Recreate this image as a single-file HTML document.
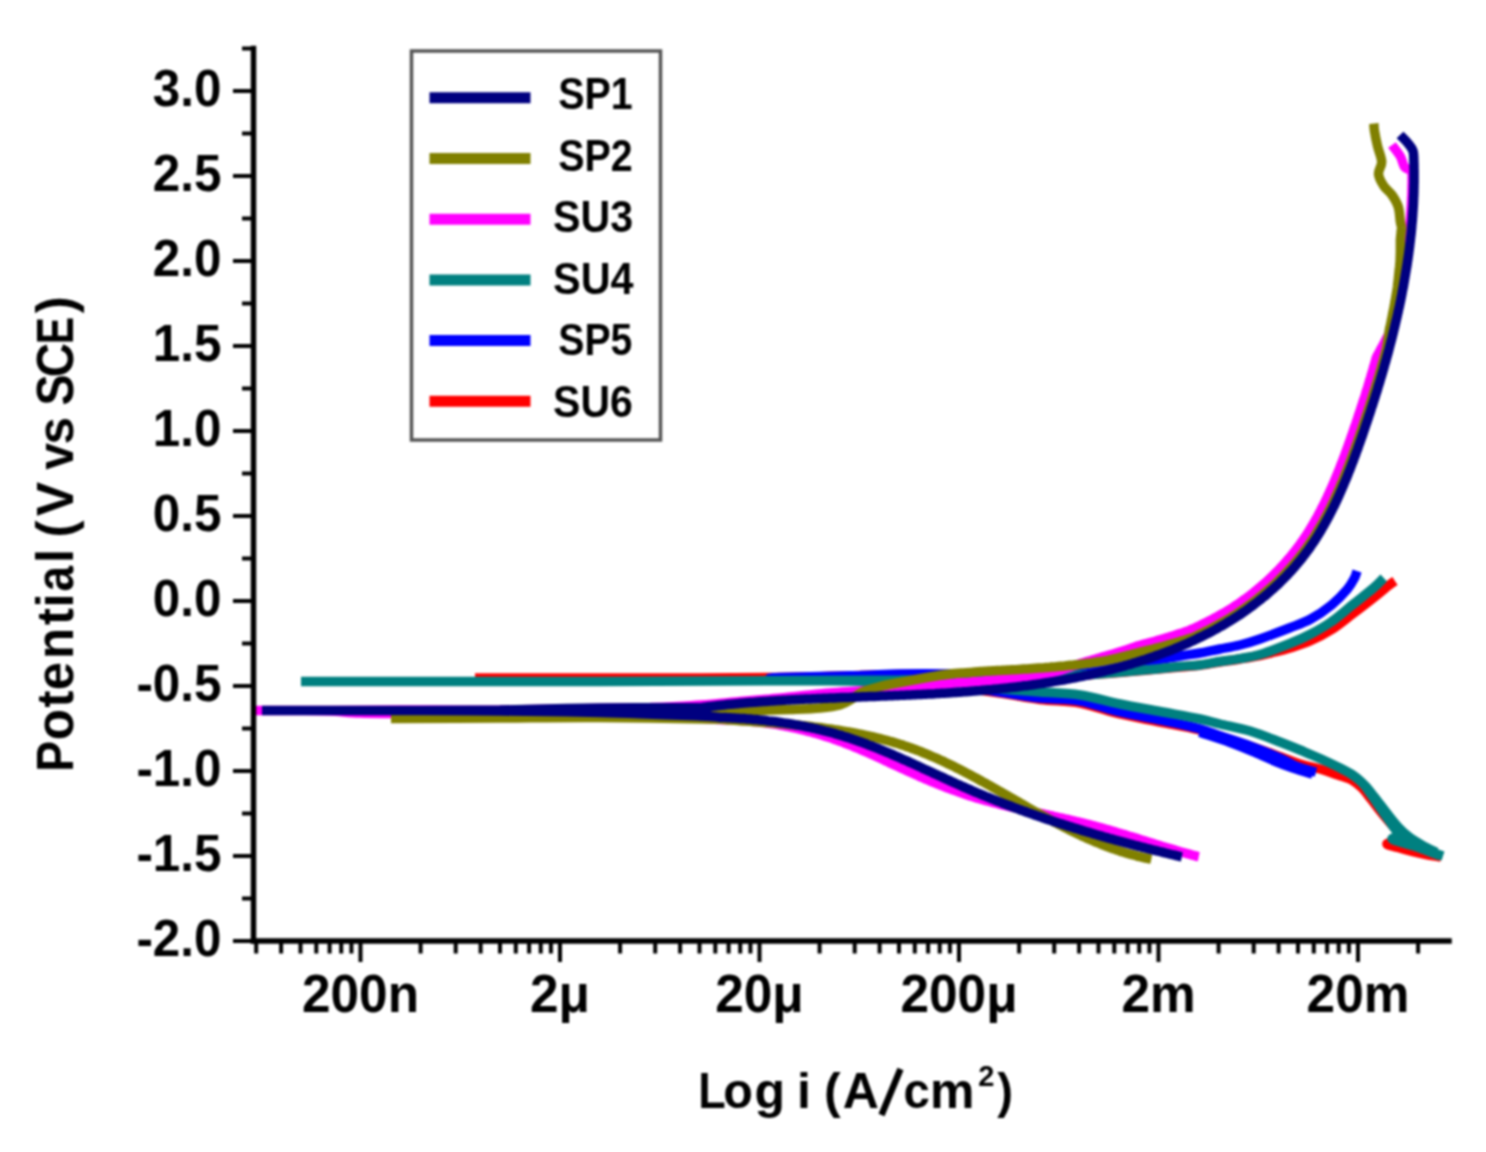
<!DOCTYPE html>
<html><head><meta charset="utf-8"><style>
html,body{margin:0;padding:0;background:#fff;}
body{width:1486px;height:1152px;overflow:hidden;}
svg{display:block;filter:blur(0.9px);font-family:"Liberation Sans",sans-serif;}
</style></head><body>
<svg width="1486" height="1152" viewBox="0 0 1486 1152">
<rect width="1486" height="1152" fill="#fff"/>
<g fill="none" stroke-width="9.5" stroke-linejoin="bevel" stroke-linecap="butt">
<path d="M1441.0 857.0 C1438.5 856.6 1430.8 855.4 1426.0 854.5 C1421.2 853.6 1416.7 852.7 1412.0 851.5 C1407.3 850.3 1402.2 848.8 1398.0 847.5 C1393.8 846.2 1387.3 845.2 1387.0 844.0 C1386.7 842.8 1393.2 841.7 1396.0 840.5 C1398.8 839.3 1404.7 839.6 1404.0 837.0 C1403.3 834.4 1395.8 829.2 1392.0 825.0 C1388.2 820.8 1384.5 816.3 1381.0 812.0 C1377.5 807.7 1374.2 803.0 1371.0 799.0 C1367.8 795.0 1365.2 791.2 1362.0 788.0 C1358.8 784.8 1356.0 782.2 1352.0 780.0 C1348.0 777.8 1343.3 776.8 1338.0 775.0 C1332.7 773.2 1326.3 770.8 1320.0 769.0 C1313.7 767.2 1306.5 766.0 1300.0 764.0 C1293.5 762.0 1289.3 760.0 1281.0 757.0 C1272.7 754.0 1263.5 750.5 1250.0 746.0 C1236.5 741.5 1215.0 734.0 1200.0 730.0 C1185.0 726.0 1173.3 724.7 1160.0 722.0 C1146.7 719.3 1133.3 717.2 1120.0 714.0 C1106.7 710.8 1093.3 705.4 1080.0 703.0 C1066.7 700.6 1053.3 701.2 1040.0 699.5 C1026.7 697.8 1015.0 695.2 1000.0 693.0 C985.0 690.8 966.7 688.2 950.0 686.0 C933.3 683.8 925.0 681.4 900.0 680.0 C875.0 678.6 833.3 677.8 800.0 677.5 C766.7 677.2 754.2 677.9 700.0 678.0 C645.8 678.1 475.0 678.0 475.0 678.0 C475.0 678.0 645.8 678.2 700.0 678.0 C754.2 677.8 773.3 677.4 800.0 677.0 C826.7 676.6 843.3 675.9 860.0 675.5 C876.7 675.1 885.0 674.7 900.0 674.5 C915.0 674.3 933.3 673.9 950.0 674.5 C966.7 675.1 981.7 677.7 1000.0 678.0 C1018.3 678.3 1041.7 677.3 1060.0 676.5 C1078.3 675.7 1095.0 674.3 1110.0 673.2 C1125.0 672.1 1138.3 670.8 1150.0 669.8 C1161.7 668.8 1171.7 667.8 1180.0 667.0 C1188.3 666.2 1193.3 666.1 1200.0 665.3 C1206.7 664.5 1213.3 663.0 1220.0 662.0 C1226.7 661.0 1233.3 660.1 1240.0 659.0 C1246.7 657.9 1254.2 656.7 1260.0 655.5 C1265.8 654.3 1270.0 653.2 1275.0 652.0 C1280.0 650.8 1284.2 649.8 1290.0 648.0 C1295.8 646.2 1303.0 644.1 1310.0 641.0 C1317.0 637.9 1324.6 634.0 1331.7 629.5 C1338.8 625.0 1345.6 619.2 1352.5 614.0 C1359.4 608.8 1367.4 602.7 1373.3 598.0 C1379.2 593.3 1384.4 588.8 1388.0 586.0 C1391.6 583.2 1393.8 581.8 1395.0 581.0" stroke="#ff0000"/>
<path d="M1316.0 772.0 C1313.3 771.3 1306.0 770.3 1300.0 768.0 C1294.0 765.7 1288.3 761.7 1280.0 758.0 C1271.7 754.3 1260.0 749.7 1250.0 746.0 C1240.0 742.3 1228.3 738.8 1220.0 736.0 C1211.7 733.2 1210.0 731.7 1200.0 729.0 C1190.0 726.3 1173.3 722.8 1160.0 720.0 C1146.7 717.2 1133.3 715.2 1120.0 712.0 C1106.7 708.8 1093.3 703.3 1080.0 701.0 C1066.7 698.7 1053.3 699.5 1040.0 698.0 C1026.7 696.5 1015.0 694.2 1000.0 692.0 C985.0 689.8 966.7 687.1 950.0 685.0 C933.3 682.9 925.0 680.8 900.0 679.5 C875.0 678.2 821.7 677.8 800.0 677.5 C778.3 677.2 770.0 678.1 770.0 678.0 C770.0 677.9 785.0 677.4 800.0 677.0 C815.0 676.6 843.3 676.0 860.0 675.5 C876.7 675.0 885.0 674.2 900.0 674.0 C915.0 673.8 933.3 673.8 950.0 674.0 C966.7 674.2 975.0 675.8 1000.0 675.0 C1025.0 674.2 1075.0 671.3 1100.0 669.0 C1125.0 666.7 1136.7 663.2 1150.0 661.0 C1163.3 658.8 1171.7 657.3 1180.0 656.0 C1188.3 654.7 1193.3 654.2 1200.0 653.0 C1206.7 651.8 1213.3 650.3 1220.0 649.0 C1226.7 647.7 1233.3 646.7 1240.0 645.0 C1246.7 643.3 1251.7 641.9 1260.0 639.0 C1268.3 636.1 1281.5 631.1 1290.0 627.8 C1298.5 624.5 1303.8 622.8 1310.8 619.0 C1317.8 615.2 1325.6 609.8 1331.7 604.8 C1337.8 599.8 1343.5 593.7 1347.3 589.2 C1351.1 584.7 1352.9 581.0 1354.5 578.0 C1356.1 575.0 1356.6 572.2 1357.0 571.0" stroke="#0000ff"/>
<path d="M1200.0 731.0 C1205.0 732.7 1220.8 737.7 1230.0 741.0 C1239.2 744.3 1246.7 747.5 1255.0 751.0 C1263.3 754.5 1272.5 759.0 1280.0 762.0 C1287.5 765.0 1294.5 767.2 1300.0 769.0 C1305.5 770.8 1310.8 772.3 1313.0 773.0" stroke="#0000ff" stroke-width="12"/>
<path d="M1443.0 856.0 C1440.5 855.2 1432.8 852.7 1428.0 851.0 C1423.2 849.3 1418.7 847.5 1414.0 846.0 C1409.3 844.5 1403.7 843.2 1400.0 842.0 C1396.3 840.8 1391.7 839.8 1392.0 838.5 C1392.3 837.2 1401.7 836.6 1402.0 834.0 C1402.3 831.4 1397.0 827.0 1394.0 823.0 C1391.0 819.0 1387.3 814.4 1384.0 810.0 C1380.7 805.6 1377.2 800.6 1374.0 796.5 C1370.8 792.4 1368.2 788.8 1365.0 785.5 C1361.8 782.2 1358.8 779.2 1355.0 776.5 C1351.2 773.8 1347.8 772.0 1342.0 769.0 C1336.2 766.0 1327.0 761.7 1320.0 758.5 C1313.0 755.3 1306.7 752.8 1300.0 750.0 C1293.3 747.2 1288.3 745.2 1280.0 742.0 C1271.7 738.8 1260.0 734.0 1250.0 731.0 C1240.0 728.0 1228.3 726.0 1220.0 724.0 C1211.7 722.0 1210.0 721.1 1200.0 719.0 C1190.0 716.9 1173.3 714.0 1160.0 711.5 C1146.7 709.0 1133.3 706.8 1120.0 704.0 C1106.7 701.2 1093.3 697.0 1080.0 695.0 C1066.7 693.0 1053.3 693.0 1040.0 692.0 C1026.7 691.0 1015.0 690.1 1000.0 689.0 C985.0 687.9 966.7 686.7 950.0 685.5 C933.3 684.3 925.0 682.8 900.0 682.0 C875.0 681.2 850.0 680.6 800.0 680.5 C750.0 680.4 683.2 681.3 600.0 681.5 C516.8 681.7 301.0 681.5 301.0 681.5 C301.0 681.5 516.8 681.7 600.0 681.5 C683.2 681.3 750.0 680.8 800.0 680.5 C850.0 680.2 866.7 680.2 900.0 680.0 C933.3 679.8 973.3 679.6 1000.0 679.0 C1026.7 678.4 1041.7 677.5 1060.0 676.5 C1078.3 675.5 1095.0 674.2 1110.0 673.0 C1125.0 671.8 1138.3 670.6 1150.0 669.5 C1161.7 668.4 1171.7 667.2 1180.0 666.5 C1188.3 665.8 1193.3 665.8 1200.0 665.0 C1206.7 664.2 1213.3 662.6 1220.0 661.5 C1226.7 660.4 1233.3 659.8 1240.0 658.6 C1246.7 657.4 1251.7 657.0 1260.0 654.5 C1268.3 652.0 1281.5 646.9 1290.0 643.5 C1298.5 640.1 1303.8 637.7 1310.8 634.0 C1317.8 630.3 1324.8 626.4 1331.7 621.5 C1338.7 616.6 1345.6 610.3 1352.5 604.8 C1359.4 599.2 1368.1 592.7 1373.3 588.2 C1378.5 583.7 1382.0 579.7 1383.8 578.0" stroke="#008080"/>
<path d="M1350.0 773.0 C1352.0 774.7 1358.5 779.3 1362.0 783.0 C1365.5 786.7 1368.0 790.8 1371.0 795.0 C1374.0 799.2 1377.0 803.7 1380.0 808.0 C1383.0 812.3 1386.0 816.8 1389.0 821.0 C1392.0 825.2 1394.5 829.3 1398.0 833.0 C1401.5 836.7 1405.5 840.2 1410.0 843.0 C1414.5 845.8 1420.0 847.8 1425.0 850.0 C1430.0 852.2 1437.5 855.0 1440.0 856.0" stroke="#008080" stroke-width="9"/>
<path d="M1378.0 803.0 C1379.7 805.2 1384.7 811.8 1388.0 816.0 C1391.3 820.2 1394.5 824.3 1398.0 828.0 C1401.5 831.7 1405.0 835.0 1409.0 838.0 C1413.0 841.0 1417.5 843.5 1422.0 846.0 C1426.5 848.5 1433.7 851.8 1436.0 853.0" stroke="#008080" stroke-width="11"/>
<path d="M1198.8 856.7 C1198.3 856.6 1196.8 856.2 1195.9 856.0 C1194.9 855.7 1193.9 855.5 1193.0 855.2 C1192.0 854.9 1191.0 854.7 1190.0 854.4 C1189.1 854.1 1188.1 853.9 1187.1 853.6 C1186.2 853.3 1185.2 853.1 1184.2 852.8 C1183.3 852.5 1182.3 852.3 1181.3 852.0 C1180.4 851.7 1179.4 851.4 1178.4 851.2 C1177.5 850.9 1176.5 850.6 1175.6 850.3 C1174.6 850.0 1173.6 849.7 1172.7 849.5 C1171.7 849.2 1170.7 848.9 1169.8 848.6 C1168.8 848.3 1167.8 848.0 1166.9 847.7 C1165.9 847.4 1165.0 847.2 1164.0 846.9 C1163.0 846.6 1162.1 846.3 1161.1 846.0 C1160.1 845.7 1159.2 845.4 1158.2 845.1 C1157.3 844.8 1156.3 844.5 1155.3 844.2 C1154.4 843.9 1153.4 843.6 1152.5 843.3 C1151.5 843.0 1150.5 842.7 1149.6 842.4 C1148.6 842.1 1147.7 841.8 1146.7 841.5 C1145.7 841.2 1144.8 840.9 1143.8 840.6 C1142.9 840.3 1141.9 840.0 1140.9 839.7 C1140.0 839.4 1139.0 839.1 1138.1 838.8 C1137.1 838.5 1136.1 838.2 1135.2 838.0 C1134.2 837.7 1133.2 837.4 1132.3 837.1 C1131.3 836.8 1130.4 836.5 1129.4 836.2 C1128.4 835.9 1127.5 835.6 1126.5 835.3 C1125.6 835.0 1124.6 834.7 1123.6 834.4 C1122.7 834.1 1121.7 833.8 1120.7 833.5 C1119.8 833.2 1118.8 833.0 1117.8 832.7 C1116.9 832.4 1115.9 832.1 1115.0 831.8 C1114.0 831.5 1113.0 831.2 1112.1 830.9 C1111.1 830.7 1110.1 830.4 1109.2 830.1 C1108.2 829.8 1107.2 829.5 1106.3 829.3 C1105.3 829.0 1104.3 828.7 1103.4 828.4 C1102.4 828.2 1101.4 827.9 1100.4 827.6 C1099.5 827.4 1098.5 827.1 1097.5 826.8 C1096.6 826.6 1095.6 826.3 1094.6 826.0 C1093.6 825.8 1092.7 825.5 1091.7 825.3 C1090.7 825.0 1089.7 824.8 1088.8 824.5 C1087.8 824.3 1086.8 824.0 1085.8 823.8 C1084.9 823.5 1083.9 823.3 1082.9 823.0 C1081.9 822.8 1080.9 822.5 1080.0 822.3 C1079.0 822.1 1078.0 821.8 1077.0 821.6 C1076.0 821.4 1075.1 821.1 1074.1 820.9 C1073.1 820.7 1072.1 820.4 1071.1 820.2 C1070.2 820.0 1069.2 819.8 1068.2 819.5 C1067.2 819.3 1066.2 819.1 1065.2 818.9 C1064.3 818.7 1063.3 818.4 1062.3 818.2 C1061.3 818.0 1060.3 817.8 1059.3 817.6 C1058.3 817.3 1057.4 817.1 1056.4 816.9 C1055.4 816.7 1054.4 816.5 1053.4 816.3 C1052.4 816.0 1051.4 815.8 1050.5 815.6 C1049.5 815.4 1048.5 815.2 1047.5 815.0 C1046.5 814.8 1045.5 814.6 1044.5 814.3 C1043.6 814.1 1042.6 813.9 1041.6 813.7 C1040.6 813.5 1039.6 813.3 1038.6 813.1 C1037.6 812.9 1036.7 812.6 1035.7 812.4 C1034.7 812.2 1033.7 812.0 1032.7 811.8 C1031.7 811.6 1030.7 811.4 1029.8 811.1 C1028.8 810.9 1027.8 810.7 1026.8 810.5 C1025.8 810.3 1024.8 810.1 1023.9 809.8 C1022.9 809.6 1021.9 809.4 1020.9 809.2 C1019.9 809.0 1018.9 808.8 1018.0 808.5 C1017.0 808.3 1016.0 808.1 1015.0 807.9 C1014.0 807.6 1013.1 807.4 1012.1 807.2 C1011.1 807.0 1010.1 806.7 1009.2 806.5 C1008.2 806.3 1007.2 806.0 1006.2 805.8 C1005.2 805.6 1004.3 805.3 1003.3 805.1 C1002.3 804.8 1001.3 804.6 1000.4 804.4 C999.4 804.1 998.4 803.9 997.5 803.6 C996.5 803.4 995.5 803.1 994.5 802.9 C993.6 802.6 992.6 802.4 991.6 802.1 C990.7 801.9 989.7 801.6 988.7 801.3 C987.8 801.1 986.8 800.8 985.8 800.6 C984.9 800.3 983.9 800.0 983.0 799.7 C982.0 799.5 981.0 799.2 980.1 798.9 C979.1 798.6 978.2 798.4 977.2 798.1 C976.2 797.8 975.3 797.5 974.3 797.2 C973.4 796.9 972.4 796.6 971.5 796.3 C970.5 796.0 969.6 795.7 968.6 795.4 C967.7 795.1 966.7 794.8 965.8 794.5 C964.8 794.1 963.9 793.8 962.9 793.5 C962.0 793.2 961.0 792.9 960.1 792.5 C959.2 792.2 958.2 791.9 957.3 791.5 C956.3 791.2 955.4 790.9 954.5 790.5 C953.5 790.2 952.6 789.8 951.7 789.5 C950.7 789.1 949.8 788.8 948.9 788.4 C947.9 788.1 947.0 787.7 946.1 787.4 C945.1 787.0 944.2 786.6 943.3 786.3 C942.3 785.9 941.4 785.5 940.5 785.2 C939.6 784.8 938.6 784.4 937.7 784.1 C936.8 783.7 935.9 783.3 934.9 782.9 C934.0 782.5 933.1 782.2 932.2 781.8 C931.2 781.4 930.3 781.0 929.4 780.6 C928.5 780.2 927.6 779.8 926.6 779.4 C925.7 779.1 924.8 778.7 923.9 778.3 C923.0 777.9 922.0 777.5 921.1 777.1 C920.2 776.7 919.3 776.3 918.4 775.8 C917.5 775.4 916.5 775.0 915.6 774.6 C914.7 774.2 913.8 773.8 912.9 773.4 C912.0 773.0 911.1 772.6 910.1 772.2 C909.2 771.7 908.3 771.3 907.4 770.9 C906.5 770.5 905.6 770.1 904.7 769.7 C903.8 769.2 902.8 768.8 901.9 768.4 C901.0 768.0 900.1 767.5 899.2 767.1 C898.3 766.7 897.4 766.3 896.5 765.9 C895.6 765.4 894.6 765.0 893.7 764.6 C892.8 764.2 891.9 763.7 891.0 763.3 C890.1 762.9 889.2 762.5 888.3 762.0 C887.4 761.6 886.4 761.2 885.5 760.8 C884.6 760.3 883.7 759.9 882.8 759.5 C881.9 759.1 881.0 758.7 880.1 758.2 C879.1 757.8 878.2 757.4 877.3 757.0 C876.4 756.6 875.5 756.1 874.6 755.7 C873.7 755.3 872.7 754.9 871.8 754.5 C870.9 754.1 870.0 753.7 869.1 753.2 C868.2 752.8 867.2 752.4 866.3 752.0 C865.4 751.6 864.5 751.2 863.6 750.8 C862.6 750.4 861.7 750.0 860.8 749.6 C859.9 749.2 859.0 748.8 858.0 748.4 C857.1 748.0 856.2 747.7 855.3 747.3 C854.3 746.9 853.4 746.5 852.5 746.1 C851.5 745.7 850.6 745.4 849.7 745.0 C848.7 744.6 847.8 744.3 846.9 743.9 C845.9 743.5 845.0 743.2 844.1 742.8 C843.1 742.4 842.2 742.1 841.3 741.7 C840.3 741.4 839.4 741.0 838.4 740.7 C837.5 740.4 836.6 740.0 835.6 739.7 C834.7 739.4 833.7 739.0 832.8 738.7 C831.8 738.4 830.9 738.1 829.9 737.7 C829.0 737.4 828.0 737.1 827.1 736.8 C826.1 736.5 825.2 736.2 824.2 735.9 C823.2 735.6 822.3 735.3 821.3 735.0 C820.4 734.7 819.4 734.4 818.5 734.1 C817.5 733.8 816.5 733.6 815.6 733.3 C814.6 733.0 813.6 732.7 812.7 732.5 C811.7 732.2 810.7 731.9 809.8 731.7 C808.8 731.4 807.8 731.2 806.8 730.9 C805.9 730.7 804.9 730.4 803.9 730.2 C803.0 729.9 802.0 729.7 801.0 729.5 C800.0 729.2 799.1 729.0 798.1 728.8 C797.1 728.6 796.1 728.3 795.1 728.1 C794.2 727.9 793.2 727.7 792.2 727.5 C791.2 727.3 790.2 727.1 789.2 726.9 C788.2 726.7 787.3 726.5 786.3 726.3 C785.3 726.1 784.3 725.9 783.3 725.7 C782.3 725.5 781.3 725.3 780.3 725.2 C779.3 725.0 778.3 724.8 777.4 724.6 C776.4 724.5 775.4 724.3 774.4 724.1 C773.4 724.0 772.4 723.8 771.4 723.7 C770.4 723.5 769.4 723.4 768.4 723.2 C767.4 723.1 766.4 723.0 765.4 722.8 C764.4 722.7 763.4 722.6 762.4 722.4 C761.4 722.3 760.4 722.2 759.4 722.1 C758.4 721.9 757.4 721.8 756.3 721.7 C755.3 721.6 754.3 721.5 753.3 721.4 C752.3 721.3 751.3 721.2 750.3 721.1 C749.3 721.0 748.3 720.9 747.3 720.8 C746.3 720.7 745.2 720.7 744.2 720.6 C743.2 720.5 742.2 720.4 741.2 720.4 C740.2 720.3 739.2 720.2 738.1 720.2 C737.1 720.1 736.1 720.0 735.1 720.0 C734.1 719.9 733.1 719.9 732.0 719.8 C731.0 719.8 730.0 719.8 729.0 719.7 C728.0 719.7 727.0 719.6 725.9 719.6 C724.9 719.6 723.9 719.6 722.9 719.5 C721.8 719.5 731.9 720.2 719.8 719.5 C707.7 718.8 686.6 716.4 650.0 715.5 C613.4 714.6 541.7 714.3 500.0 714.0 C458.3 713.7 423.3 713.7 400.0 713.5 C376.7 713.3 371.7 713.4 360.0 713.0 C348.3 712.6 340.0 711.4 330.0 711.0 C320.0 710.6 313.0 710.6 300.0 710.5 C287.0 710.4 252.0 710.5 252.0 710.5 C252.0 710.5 287.0 710.5 300.0 710.5 C313.0 710.5 313.3 710.6 330.0 710.5 C346.7 710.4 371.7 710.1 400.0 710.0 C428.3 709.9 458.3 710.4 500.0 710.0 C541.7 709.6 616.7 708.3 650.0 707.5 C683.3 706.7 685.0 706.0 700.0 705.0 C715.0 704.0 728.3 702.5 740.0 701.5 C751.7 700.5 760.0 699.9 770.0 699.0 C780.0 698.1 790.0 697.0 800.0 696.0 C810.0 695.0 820.0 693.8 830.0 693.0 C840.0 692.2 848.3 691.8 860.0 691.0 C871.7 690.2 887.5 689.5 900.0 688.5 C912.5 687.5 925.7 685.9 935.0 685.0 C944.3 684.1 951.6 683.4 955.5 683.0 C959.5 682.6 957.5 682.9 958.5 682.8 C959.6 682.7 960.6 682.7 961.6 682.6 C962.6 682.5 963.6 682.4 964.6 682.4 C965.6 682.3 966.6 682.2 967.5 682.2 C968.5 682.1 969.5 682.0 970.5 681.9 C971.5 681.8 972.5 681.8 973.5 681.7 C974.5 681.6 975.5 681.5 976.5 681.4 C977.5 681.4 978.5 681.3 979.5 681.2 C980.5 681.1 981.5 681.0 982.5 680.9 C983.5 680.8 984.5 680.7 985.5 680.7 C986.5 680.6 987.5 680.5 988.5 680.4 C989.5 680.4 990.5 680.3 991.5 680.2 C992.5 680.1 993.5 680.1 994.5 680.0 C995.5 679.9 996.5 679.8 997.4 679.8 C998.4 679.7 999.4 679.6 1000.4 679.5 C1001.4 679.4 1002.4 679.4 1003.4 679.3 C1004.4 679.2 1005.4 679.1 1006.4 679.0 C1007.4 678.9 1008.4 678.8 1009.4 678.8 C1010.4 678.7 1011.4 678.6 1012.4 678.5 C1013.4 678.4 1014.4 678.3 1015.3 678.2 C1016.3 678.1 1017.3 678.0 1018.3 677.9 C1019.3 677.8 1020.3 677.7 1021.3 677.6 C1022.3 677.5 1023.3 677.4 1024.3 677.3 C1025.3 677.2 1026.3 677.1 1027.3 677.0 C1028.2 676.9 1029.2 676.8 1030.2 676.7 C1031.2 676.6 1032.2 676.5 1033.2 676.4 C1034.2 676.3 1035.2 676.2 1036.2 676.1 C1037.2 676.0 1038.2 675.8 1039.1 675.7 C1040.1 675.6 1041.1 675.5 1042.1 675.4 C1043.1 675.2 1044.1 675.0 1045.1 674.8 C1046.0 674.6 1047.0 674.3 1048.0 674.0 C1048.9 673.7 1049.9 673.5 1050.8 673.2 C1051.8 672.9 1052.8 672.6 1053.7 672.3 C1054.7 672.1 1055.7 671.8 1056.6 671.5 C1057.6 671.2 1058.5 670.9 1059.5 670.6 C1060.4 670.3 1061.4 670.0 1062.3 669.7 C1063.3 669.4 1064.3 669.1 1065.2 668.8 C1066.2 668.5 1067.1 668.1 1068.1 667.8 C1069.0 667.5 1069.9 667.2 1070.9 666.9 C1071.8 666.5 1072.8 666.2 1073.7 665.9 C1074.7 665.5 1075.6 665.2 1076.6 664.9 C1077.5 664.5 1078.4 664.1 1079.4 663.8 C1080.3 663.5 1081.3 663.2 1082.2 662.9 C1083.2 662.6 1084.1 662.4 1085.1 662.1 C1086.0 661.8 1087.0 661.6 1087.9 661.3 C1088.9 661.0 1089.8 660.8 1090.8 660.5 C1091.7 660.2 1092.7 659.9 1093.6 659.6 C1094.6 659.4 1095.5 659.1 1096.5 658.8 C1097.4 658.5 1098.4 658.2 1099.3 657.9 C1100.2 657.6 1101.2 657.3 1102.1 657.0 C1103.1 656.7 1104.0 656.5 1105.0 656.2 C1105.9 655.9 1106.9 655.7 1107.8 655.4 C1108.8 655.1 1109.7 654.9 1110.7 654.6 C1111.6 654.3 1112.6 654.0 1113.5 653.8 C1114.5 653.5 1115.4 653.2 1116.3 652.9 C1117.3 652.6 1118.2 652.3 1119.2 652.1 C1120.1 651.8 1121.1 651.5 1122.0 651.2 C1122.9 650.9 1123.9 650.6 1124.8 650.3 C1125.8 650.0 1126.7 649.7 1127.6 649.4 C1128.6 649.1 1129.5 648.8 1130.4 648.5 C1131.4 648.1 1132.3 647.8 1133.2 647.5 C1134.1 647.2 1135.1 646.9 1136.0 646.6 C1136.9 646.2 1137.8 645.9 1138.8 645.6 C1139.7 645.3 1140.6 645.0 1141.6 644.7 C1142.5 644.5 1143.5 644.3 1144.4 644.0 C1145.4 643.8 1146.3 643.5 1147.3 643.3 C1148.2 643.0 1149.2 642.8 1150.1 642.5 C1151.1 642.2 1152.0 642.0 1153.0 641.7 C1153.9 641.5 1154.9 641.2 1155.8 640.9 C1156.8 640.7 1157.7 640.4 1158.6 640.1 C1159.6 639.9 1160.5 639.6 1161.5 639.3 C1162.4 639.0 1163.4 638.8 1164.3 638.5 C1165.2 638.2 1166.2 637.9 1167.1 637.6 C1168.0 637.4 1169.0 637.1 1169.9 636.8 C1170.8 636.5 1171.8 636.2 1172.7 635.9 C1173.6 635.6 1174.6 635.3 1175.5 635.0 C1176.4 634.7 1177.4 634.4 1178.3 634.1 C1179.2 633.8 1180.2 633.5 1181.1 633.2 C1182.0 632.9 1182.9 632.6 1183.9 632.3 C1184.8 631.9 1185.7 631.6 1186.6 631.3 C1187.6 631.0 1188.5 630.7 1189.4 630.3 C1190.3 630.0 1191.2 629.6 1192.1 629.2 C1193.0 628.8 1193.8 628.4 1194.7 628.0 C1195.6 627.6 1196.5 627.2 1197.4 626.7 C1198.2 626.3 1199.1 625.9 1200.0 625.5 C1200.9 625.1 1201.7 624.7 1202.6 624.2 C1203.5 623.8 1204.3 623.4 1205.2 622.9 C1206.0 622.5 1206.9 622.1 1207.8 621.6 C1208.6 621.2 1209.5 620.8 1210.3 620.3 C1211.2 619.9 1212.1 619.4 1212.9 619.0 C1213.8 618.5 1214.6 618.1 1215.4 617.6 C1216.3 617.2 1217.1 616.7 1218.0 616.2 C1218.8 615.8 1219.7 615.3 1220.5 614.8 C1221.3 614.4 1222.2 613.9 1223.0 613.4 C1223.8 612.9 1224.7 612.5 1225.5 612.0 C1226.3 611.5 1227.1 611.0 1228.0 610.5 C1228.8 610.0 1229.6 609.5 1230.4 609.0 C1231.2 608.5 1232.0 608.0 1232.8 607.5 C1233.6 607.0 1234.4 606.5 1235.2 605.9 C1236.0 605.4 1236.8 604.9 1237.6 604.3 C1238.4 603.8 1239.2 603.2 1239.9 602.7 C1240.7 602.1 1241.5 601.6 1242.3 601.0 C1243.0 600.5 1243.8 599.9 1244.6 599.4 C1245.3 598.8 1246.1 598.3 1246.9 597.7 C1247.6 597.1 1248.4 596.5 1249.1 596.0 C1249.9 595.4 1250.6 594.8 1251.4 594.2 C1252.1 593.7 1252.9 593.1 1253.6 592.5 C1254.4 591.9 1255.1 591.3 1255.8 590.7 C1256.6 590.1 1257.3 589.5 1258.0 588.9 C1258.7 588.3 1259.5 587.7 1260.2 587.1 C1260.9 586.5 1261.6 585.9 1262.3 585.2 C1263.1 584.6 1263.8 584.0 1264.5 583.4 C1265.2 582.7 1265.9 582.1 1266.6 581.5 C1267.3 580.8 1268.0 580.2 1268.7 579.6 C1269.4 578.9 1270.1 578.3 1270.7 577.6 C1271.4 577.0 1272.1 576.3 1272.8 575.7 C1273.5 575.0 1274.1 574.4 1274.8 573.7 C1275.5 573.0 1276.1 572.4 1276.8 571.7 C1277.5 571.0 1278.1 570.3 1278.8 569.7 C1279.4 569.0 1280.1 568.3 1280.7 567.6 C1281.4 566.9 1282.0 566.2 1282.7 565.5 C1283.3 564.8 1283.9 564.1 1284.6 563.4 C1285.2 562.7 1285.8 562.0 1286.4 561.3 C1287.1 560.6 1287.7 559.9 1288.3 559.2 C1288.9 558.4 1289.5 557.7 1290.1 557.0 C1290.7 556.3 1291.4 555.5 1291.9 554.8 C1292.5 554.1 1293.1 553.3 1293.7 552.6 C1294.3 551.8 1294.9 551.1 1295.5 550.3 C1296.1 549.6 1296.7 548.8 1297.2 548.1 C1297.8 547.3 1298.4 546.5 1298.9 545.8 C1299.5 545.0 1300.1 544.2 1300.6 543.5 C1301.2 542.7 1301.7 541.9 1302.3 541.1 C1302.8 540.3 1303.4 539.5 1303.9 538.7 C1304.5 538.0 1305.0 537.2 1305.5 536.3 C1306.1 535.5 1306.6 534.7 1307.1 533.9 C1307.6 533.1 1308.2 532.3 1308.7 531.5 C1309.2 530.7 1309.7 529.8 1310.2 529.0 C1310.7 528.2 1311.2 527.3 1311.7 526.5 C1312.2 525.7 1312.7 524.8 1313.2 524.0 C1313.7 523.1 1314.2 522.3 1314.7 521.4 C1315.2 520.6 1315.7 519.7 1316.1 518.8 C1316.6 518.0 1317.1 517.1 1317.6 516.2 C1318.0 515.4 1318.5 514.5 1319.0 513.6 C1319.4 512.7 1319.9 511.9 1320.4 511.0 C1320.8 510.1 1321.3 509.2 1321.7 508.3 C1322.2 507.4 1322.6 506.5 1323.1 505.7 C1323.5 504.8 1324.0 503.9 1324.4 503.0 C1324.9 502.1 1325.3 501.2 1325.8 500.2 C1326.2 499.3 1326.6 498.4 1327.1 497.5 C1327.5 496.6 1327.9 495.7 1328.3 494.8 C1328.8 493.9 1329.2 492.9 1329.6 492.0 C1330.0 491.1 1330.4 490.2 1330.8 489.2 C1331.3 488.3 1331.7 487.4 1332.1 486.5 C1332.5 485.5 1332.9 484.6 1333.3 483.7 C1333.7 482.7 1334.1 481.8 1334.5 480.9 C1334.9 479.9 1335.3 479.0 1335.7 478.0 C1336.1 477.1 1336.5 476.1 1336.9 475.2 C1337.2 474.3 1337.6 473.3 1338.0 472.4 C1338.4 471.4 1338.8 470.5 1339.2 469.5 C1339.5 468.6 1339.9 467.6 1340.3 466.7 C1340.7 465.7 1341.0 464.7 1341.4 463.8 C1341.8 462.8 1342.1 461.9 1342.5 460.9 C1342.9 460.0 1343.2 459.0 1343.6 458.0 C1344.0 457.1 1344.3 456.1 1344.7 455.2 C1345.0 454.2 1345.4 453.2 1345.7 452.3 C1346.1 451.3 1346.4 450.3 1346.8 449.4 C1347.1 448.4 1347.5 447.5 1347.8 446.5 C1348.2 445.5 1348.5 444.6 1348.9 443.6 C1349.2 442.6 1349.6 441.7 1349.9 440.7 C1350.3 439.7 1350.6 438.8 1350.9 437.8 C1351.3 436.8 1351.6 435.9 1351.9 434.9 C1352.3 434.0 1352.6 433.0 1352.9 432.0 C1353.3 431.1 1353.6 430.1 1353.9 429.1 C1354.3 428.2 1354.6 427.2 1354.9 426.3 C1355.2 425.3 1355.6 424.3 1355.9 423.4 C1356.2 422.4 1356.5 421.5 1356.9 420.5 C1357.2 419.6 1357.5 418.6 1357.8 417.6 C1358.2 416.7 1358.5 415.7 1358.8 414.8 C1359.1 413.8 1359.4 412.9 1359.7 411.9 C1360.1 411.0 1360.4 410.0 1360.7 409.1 C1361.0 408.1 1361.3 407.2 1361.6 406.2 C1361.9 405.3 1362.2 404.3 1362.5 403.4 C1362.8 402.4 1363.1 401.5 1363.4 400.5 C1363.8 399.6 1364.1 398.6 1364.4 397.7 C1364.7 396.7 1365.0 395.8 1365.3 394.9 C1365.6 393.9 1365.9 393.0 1366.1 392.0 C1366.4 391.1 1366.7 390.1 1367.0 389.2 C1367.3 388.2 1367.6 387.3 1367.9 386.4 C1368.2 385.4 1368.5 384.5 1368.8 383.5 C1369.1 382.6 1369.3 381.7 1369.6 380.7 C1369.9 379.8 1370.2 378.8 1370.5 377.9 C1370.8 376.9 1371.0 376.0 1371.3 375.1 C1371.6 374.1 1371.9 373.2 1372.2 372.2 C1372.4 371.3 1372.7 370.4 1373.0 369.4 C1373.3 368.5 1373.5 367.5 1373.8 366.6 C1374.1 365.6 1374.4 364.7 1374.6 363.8 C1374.9 362.8 1375.2 361.9 1375.4 360.9 C1375.7 360.0 1375.9 359.0 1376.2 358.1 C1376.6 357.2 1377.0 356.3 1377.5 355.4 C1377.9 354.5 1378.4 353.6 1378.9 352.7 C1379.4 351.9 1379.9 351.0 1380.4 350.1 C1380.8 349.2 1381.3 348.3 1381.8 347.4 C1382.3 346.5 1382.7 345.6 1383.2 344.7 C1383.7 343.8 1384.2 343.0 1384.6 342.1 C1385.1 341.2 1385.6 340.3 1386.0 339.4 C1386.5 338.5 1387.0 337.6 1387.4 336.7 C1387.9 335.8 1388.5 334.9 1388.8 334.0 C1389.2 333.0 1389.4 332.1 1389.7 331.1 C1389.9 330.2 1390.2 329.2 1390.5 328.3 C1390.8 327.3 1391.0 326.4 1391.3 325.4 C1391.6 324.5 1391.9 323.5 1392.1 322.5 C1392.4 321.6 1392.7 320.6 1392.9 319.7 C1393.2 318.7 1393.5 317.8 1393.7 316.8 C1394.0 315.8 1394.3 314.9 1394.5 313.9 C1394.8 313.0 1395.0 312.0 1395.3 311.0 C1395.5 310.1 1395.8 309.1 1396.1 308.2 C1396.3 307.2 1396.6 306.2 1396.8 305.3 C1397.1 304.3 1397.3 303.3 1397.6 302.4 C1397.8 301.4 1398.0 300.4 1398.3 299.5 C1398.5 298.5 1398.8 297.5 1399.0 296.6 C1399.2 295.6 1399.5 294.6 1399.7 293.7 C1400.0 292.7 1400.2 291.7 1400.4 290.8 C1400.6 289.8 1400.8 288.8 1401.0 287.8 C1401.2 286.9 1401.4 285.9 1401.6 284.9 C1401.8 283.9 1401.9 282.9 1402.1 281.9 C1402.3 281.0 1402.5 280.0 1402.7 279.0 C1402.8 278.0 1403.0 277.0 1403.2 276.0 C1403.3 275.1 1403.5 274.1 1403.7 273.1 C1403.8 272.1 1404.0 271.1 1404.2 270.1 C1404.3 269.1 1404.5 268.1 1404.6 267.2 C1404.8 266.2 1404.9 265.2 1405.1 264.2 C1405.2 263.2 1405.4 262.2 1405.5 261.2 C1405.7 260.2 1405.8 259.2 1406.0 258.3 C1406.1 257.3 1406.3 256.3 1406.4 255.3 C1406.5 254.3 1406.7 253.3 1406.8 252.3 C1406.9 251.3 1407.1 250.3 1407.2 249.3 C1407.3 248.3 1407.5 247.3 1407.6 246.3 C1407.7 245.3 1407.8 244.3 1408.0 243.4 C1408.1 242.4 1408.2 241.4 1408.3 240.4 C1408.4 239.4 1408.5 238.4 1408.6 237.4 C1408.8 236.4 1408.9 235.4 1409.0 234.4 C1409.1 233.4 1409.2 232.4 1409.3 231.4 C1409.4 230.4 1409.5 229.4 1409.6 228.4 C1409.7 227.4 1409.8 226.4 1409.9 225.4 C1409.9 224.4 1410.0 223.4 1410.1 222.4 C1410.2 221.4 1410.3 220.4 1410.4 219.4 C1410.4 218.4 1410.5 217.4 1410.6 216.4 C1410.7 215.4 1410.7 214.4 1410.8 213.3 C1410.9 212.3 1410.9 211.3 1411.0 210.3 C1411.1 209.3 1411.1 208.3 1411.2 207.3 C1411.3 206.3 1411.3 205.3 1411.4 204.3 C1411.4 203.3 1411.5 202.3 1411.5 201.3 C1411.6 200.3 1411.6 199.3 1411.6 198.3 C1411.7 197.2 1411.7 196.2 1411.8 195.2 C1411.8 194.2 1411.8 193.2 1411.9 192.2 C1411.9 191.2 1411.9 190.2 1411.9 189.2 C1412.0 188.2 1412.0 187.2 1412.0 186.1 C1412.0 185.1 1412.0 184.1 1412.1 183.1 C1412.1 182.1 1412.1 181.1 1412.1 180.1 C1412.1 179.1 1412.1 178.0 1412.1 177.0 C1412.1 176.0 1412.1 175.0 1412.1 174.0 C1412.1 173.0 1413.3 172.1 1412.1 171.0 C1410.8 169.8 1406.5 169.4 1404.6 167.0 C1402.7 164.6 1402.5 160.2 1400.4 156.5 C1398.3 152.8 1393.4 146.9 1392.0 145.0" stroke="#ff00ff"/>
<path d="M1151.3 859.2 C1150.8 859.1 1149.3 858.8 1148.3 858.6 C1147.4 858.4 1146.4 858.2 1145.4 858.0 C1144.4 857.8 1143.4 857.5 1142.5 857.3 C1141.5 857.1 1140.5 856.9 1139.6 856.6 C1138.6 856.4 1137.6 856.2 1136.7 855.9 C1135.7 855.7 1134.7 855.4 1133.8 855.1 C1132.8 854.9 1131.8 854.6 1130.9 854.4 C1129.9 854.1 1129.0 853.8 1128.0 853.5 C1127.1 853.3 1126.1 853.0 1125.2 852.7 C1124.2 852.4 1123.3 852.1 1122.3 851.8 C1121.4 851.5 1120.4 851.2 1119.5 850.9 C1118.5 850.6 1117.6 850.2 1116.6 849.9 C1115.7 849.6 1114.8 849.3 1113.8 849.0 C1112.9 848.6 1111.9 848.3 1111.0 848.0 C1110.1 847.6 1109.1 847.3 1108.2 846.9 C1107.3 846.6 1106.4 846.2 1105.4 845.9 C1104.5 845.5 1103.6 845.2 1102.6 844.8 C1101.7 844.4 1100.8 844.1 1099.9 843.7 C1098.9 843.3 1098.0 842.9 1097.1 842.5 C1096.2 842.2 1095.3 841.8 1094.3 841.4 C1093.4 841.0 1092.5 840.6 1091.6 840.2 C1090.7 839.8 1089.8 839.4 1088.9 839.0 C1087.9 838.6 1087.0 838.2 1086.1 837.8 C1085.2 837.4 1084.3 837.0 1083.4 836.6 C1082.5 836.1 1081.6 835.7 1080.7 835.3 C1079.8 834.9 1078.9 834.4 1077.9 834.0 C1077.0 833.6 1076.1 833.2 1075.2 832.7 C1074.3 832.3 1073.4 831.8 1072.5 831.4 C1071.6 831.0 1070.7 830.5 1069.8 830.1 C1068.9 829.6 1068.0 829.2 1067.1 828.7 C1066.2 828.3 1065.3 827.8 1064.5 827.4 C1063.6 826.9 1062.7 826.4 1061.8 826.0 C1060.9 825.5 1060.0 825.1 1059.1 824.6 C1058.2 824.1 1057.3 823.7 1056.4 823.2 C1055.5 822.7 1054.6 822.2 1053.7 821.8 C1052.9 821.3 1052.0 820.8 1051.1 820.3 C1050.2 819.9 1049.3 819.4 1048.4 818.9 C1047.5 818.4 1046.6 817.9 1045.8 817.4 C1044.9 817.0 1044.0 816.5 1043.1 816.0 C1042.2 815.5 1041.3 815.0 1040.4 814.5 C1039.6 814.0 1038.7 813.5 1037.8 813.0 C1036.9 812.5 1036.0 812.0 1035.1 811.6 C1034.3 811.1 1033.4 810.6 1032.5 810.1 C1031.6 809.6 1030.7 809.1 1029.8 808.6 C1029.0 808.1 1028.1 807.6 1027.2 807.1 C1026.3 806.6 1025.4 806.1 1024.6 805.6 C1023.7 805.1 1022.8 804.5 1021.9 804.0 C1021.0 803.5 1020.2 803.0 1019.3 802.5 C1018.4 802.0 1017.5 801.5 1016.6 801.0 C1015.8 800.5 1014.9 800.0 1014.0 799.5 C1013.1 799.0 1012.2 798.5 1011.3 798.0 C1010.5 797.5 1009.6 797.0 1008.7 796.5 C1007.8 796.0 1006.9 795.5 1006.1 794.9 C1005.2 794.4 1004.3 793.9 1003.4 793.4 C1002.5 792.9 1001.7 792.4 1000.8 791.9 C999.9 791.4 999.0 790.9 998.1 790.4 C997.2 789.9 996.4 789.4 995.5 788.9 C994.6 788.4 993.7 787.9 992.8 787.4 C991.9 786.9 991.1 786.4 990.2 785.9 C989.3 785.4 988.4 784.9 987.5 784.4 C986.6 783.9 985.8 783.4 984.9 782.9 C984.0 782.4 983.1 781.9 982.2 781.5 C981.3 781.0 980.4 780.5 979.5 780.0 C978.7 779.5 977.8 779.0 976.9 778.5 C976.0 778.0 975.1 777.6 974.2 777.1 C973.3 776.6 972.4 776.1 971.5 775.6 C970.6 775.2 969.7 774.7 968.8 774.2 C968.0 773.7 967.1 773.3 966.2 772.8 C965.3 772.3 964.4 771.8 963.5 771.4 C962.6 770.9 961.7 770.5 960.8 770.0 C959.9 769.5 959.0 769.1 958.1 768.6 C957.2 768.2 956.3 767.7 955.4 767.3 C954.5 766.8 953.6 766.4 952.7 765.9 C951.8 765.5 950.9 765.0 950.0 764.6 C949.0 764.1 948.1 763.7 947.2 763.3 C946.3 762.8 945.4 762.4 944.5 762.0 C943.6 761.5 942.7 761.1 941.8 760.7 C940.8 760.3 939.9 759.8 939.0 759.4 C938.1 759.0 937.2 758.6 936.3 758.2 C935.4 757.8 934.4 757.4 933.5 757.0 C932.6 756.6 931.7 756.2 930.7 755.8 C929.8 755.4 928.9 755.0 928.0 754.6 C927.0 754.2 926.1 753.8 925.2 753.4 C924.3 753.1 923.3 752.7 922.4 752.3 C921.5 751.9 920.5 751.6 919.6 751.2 C918.7 750.8 917.7 750.5 916.8 750.1 C915.8 749.8 914.9 749.4 914.0 749.1 C913.0 748.7 912.1 748.4 911.1 748.1 C910.2 747.7 909.2 747.4 908.3 747.1 C907.3 746.7 906.4 746.4 905.4 746.1 C904.5 745.8 903.5 745.4 902.6 745.1 C901.6 744.8 900.7 744.5 899.7 744.2 C898.8 743.9 897.8 743.6 896.8 743.3 C895.9 743.0 894.9 742.7 894.0 742.5 C893.0 742.2 892.0 741.9 891.1 741.6 C890.1 741.3 889.1 741.1 888.2 740.8 C887.2 740.5 886.2 740.3 885.3 740.0 C884.3 739.7 883.3 739.5 882.3 739.2 C881.4 739.0 880.4 738.7 879.4 738.5 C878.4 738.2 877.5 738.0 876.5 737.7 C875.5 737.5 874.5 737.3 873.5 737.0 C872.6 736.8 871.6 736.6 870.6 736.4 C869.6 736.1 868.6 735.9 867.6 735.7 C866.6 735.5 865.7 735.3 864.7 735.1 C863.7 734.8 862.7 734.6 861.7 734.4 C860.7 734.2 859.7 734.0 858.7 733.8 C857.7 733.6 856.7 733.4 855.8 733.3 C854.8 733.1 853.8 732.9 852.8 732.7 C851.8 732.5 850.8 732.3 849.8 732.1 C848.8 732.0 847.8 731.8 846.8 731.6 C845.8 731.4 844.8 731.3 843.8 731.1 C842.8 730.9 841.8 730.8 840.8 730.6 C839.8 730.5 838.8 730.3 837.8 730.1 C836.8 730.0 835.8 729.8 834.8 729.7 C833.8 729.5 832.8 729.4 831.8 729.2 C830.8 729.1 829.8 728.9 828.7 728.8 C827.7 728.7 826.7 728.5 825.7 728.4 C824.7 728.2 823.7 728.1 822.7 728.0 C821.7 727.8 820.7 727.7 819.7 727.6 C818.7 727.5 817.7 727.3 816.7 727.2 C815.6 727.1 814.6 727.0 813.6 726.9 C812.6 726.7 811.6 726.6 810.6 726.5 C809.6 726.4 808.6 726.3 807.6 726.2 C806.5 726.1 805.5 725.9 804.5 725.8 C803.5 725.7 802.5 725.6 801.5 725.5 C800.5 725.4 799.5 725.3 798.5 725.2 C797.4 725.1 796.4 725.0 795.4 724.9 C794.4 724.8 793.4 724.7 792.4 724.6 C791.4 724.5 790.4 724.4 789.4 724.4 C788.3 724.3 787.3 724.2 786.3 724.1 C785.3 724.0 784.3 723.9 783.3 723.8 C782.3 723.7 781.3 723.7 780.2 723.6 C779.2 723.5 778.2 723.4 777.2 723.3 C776.2 723.2 775.2 723.2 774.2 723.1 C773.2 723.0 772.2 722.9 771.1 722.8 C770.1 722.8 769.1 722.7 768.1 722.6 C767.1 722.5 766.1 722.5 765.1 722.4 C764.1 722.3 763.1 722.2 762.1 722.2 C761.1 722.1 760.1 722.0 759.0 722.0 C758.0 721.9 757.0 721.8 756.0 721.8 C755.0 721.7 754.0 721.6 753.0 721.5 C752.0 721.5 751.0 721.4 750.0 721.3 C749.0 721.3 748.0 721.2 747.0 721.1 C746.0 721.1 745.0 721.0 744.0 720.9 C743.0 720.9 742.0 720.8 741.0 720.7 C740.0 720.7 739.0 720.6 738.0 720.5 C737.0 720.5 736.0 720.4 735.0 720.3 C734.0 720.3 733.0 720.2 732.0 720.1 C731.0 720.1 730.0 720.0 729.0 719.9 C728.0 719.9 727.0 719.8 726.1 719.7 C725.1 719.7 724.1 719.6 723.1 719.5 C722.1 719.5 740.6 719.7 720.1 719.3 C699.6 719.0 636.7 717.7 600.0 717.5 C563.3 717.3 534.8 717.8 500.0 718.0 C465.2 718.2 391.0 718.5 391.0 718.5 C391.0 718.5 465.2 718.3 500.0 718.0 C534.8 717.7 566.7 717.3 600.0 716.5 C633.3 715.7 676.7 713.9 700.0 713.0 C723.3 712.1 725.0 711.6 740.0 711.0 C755.0 710.4 776.7 710.0 790.0 709.5 C803.3 709.0 811.7 708.8 820.0 708.0 C828.3 707.2 834.7 706.5 840.0 705.0 C845.3 703.5 848.3 701.2 852.0 699.0 C855.7 696.8 857.3 694.1 862.0 692.0 C866.7 689.9 873.7 688.1 880.0 686.5 C886.3 684.9 891.7 684.1 900.0 682.5 C908.3 680.9 920.9 678.5 930.0 677.0 C939.1 675.5 950.2 674.1 954.9 673.5 C959.5 672.9 956.9 673.4 957.9 673.3 C958.9 673.3 959.9 673.2 960.9 673.1 C961.9 673.0 962.9 673.0 963.9 672.9 C964.8 672.8 965.8 672.8 966.8 672.7 C967.8 672.6 968.8 672.5 969.8 672.4 C970.8 672.4 971.8 672.3 972.8 672.2 C973.8 672.1 974.8 672.1 975.7 672.0 C976.7 671.9 977.7 671.8 978.7 671.7 C979.7 671.6 980.7 671.6 981.7 671.5 C982.7 671.4 983.6 671.3 984.6 671.2 C985.6 671.1 986.6 671.1 987.6 671.1 C988.6 671.0 989.6 671.0 990.6 670.9 C991.6 670.9 992.6 670.8 993.6 670.8 C994.5 670.7 995.5 670.7 996.5 670.6 C997.5 670.6 998.5 670.5 999.5 670.5 C1000.5 670.4 1001.5 670.4 1002.5 670.3 C1003.4 670.3 1004.4 670.2 1005.4 670.2 C1006.4 670.1 1007.4 670.1 1008.4 670.0 C1009.4 669.9 1010.4 669.9 1011.4 669.8 C1012.3 669.8 1013.3 669.7 1014.3 669.7 C1015.3 669.6 1016.3 669.5 1017.3 669.5 C1018.3 669.4 1019.3 669.4 1020.3 669.3 C1021.2 669.2 1022.2 669.2 1023.2 669.1 C1024.2 669.1 1025.2 669.0 1026.2 668.9 C1027.2 668.9 1028.2 668.8 1029.1 668.7 C1030.1 668.7 1031.1 668.6 1032.1 668.5 C1033.1 668.5 1034.1 668.4 1035.1 668.3 C1036.0 668.3 1037.0 668.2 1038.0 668.1 C1039.0 668.0 1040.0 668.0 1041.0 667.9 C1042.0 667.8 1043.0 667.7 1043.9 667.7 C1044.9 667.6 1045.9 667.5 1046.9 667.4 C1047.9 667.4 1048.9 667.3 1049.9 667.2 C1050.9 667.1 1051.8 667.0 1052.8 666.9 C1053.8 666.9 1054.8 666.8 1055.8 666.7 C1056.8 666.6 1057.8 666.5 1058.7 666.4 C1059.7 666.3 1060.7 666.3 1061.7 666.2 C1062.7 666.1 1063.7 666.0 1064.7 665.9 C1065.7 665.8 1066.6 665.7 1067.6 665.6 C1068.6 665.5 1069.6 665.4 1070.6 665.3 C1071.6 665.2 1072.6 665.1 1073.6 665.0 C1074.5 664.9 1075.5 664.8 1076.5 664.7 C1077.5 664.6 1078.5 664.5 1079.5 664.4 C1080.5 664.3 1081.5 664.2 1082.5 664.1 C1083.4 663.9 1084.4 663.8 1085.4 663.7 C1086.4 663.5 1087.4 663.4 1088.4 663.3 C1089.4 663.1 1090.3 663.0 1091.3 662.9 C1092.3 662.7 1093.3 662.6 1094.3 662.5 C1095.3 662.3 1096.3 662.2 1097.2 662.0 C1098.2 661.9 1099.2 661.7 1100.2 661.6 C1101.2 661.4 1102.2 661.3 1103.2 661.1 C1104.1 661.0 1105.1 660.8 1106.1 660.6 C1107.1 660.4 1108.0 660.1 1109.0 659.9 C1110.0 659.7 1110.9 659.5 1111.9 659.3 C1112.9 659.1 1113.9 658.8 1114.8 658.6 C1115.8 658.4 1116.8 658.2 1117.7 657.9 C1118.7 657.7 1119.7 657.5 1120.6 657.2 C1121.6 657.0 1122.6 656.8 1123.5 656.5 C1124.5 656.3 1125.5 656.0 1126.4 655.8 C1127.4 655.5 1128.4 655.3 1129.3 655.1 C1130.3 654.8 1131.3 654.6 1132.2 654.3 C1133.2 654.0 1134.1 653.8 1135.1 653.5 C1136.1 653.3 1137.0 653.0 1138.0 652.8 C1138.9 652.5 1139.9 652.2 1140.9 652.0 C1141.8 651.7 1142.8 651.5 1143.8 651.2 C1144.7 651.0 1145.7 650.8 1146.7 650.5 C1147.6 650.3 1148.6 650.1 1149.6 649.8 C1150.5 649.6 1151.5 649.3 1152.5 649.1 C1153.4 648.9 1154.4 648.6 1155.4 648.4 C1156.3 648.1 1157.3 647.9 1158.3 647.6 C1159.2 647.4 1160.2 647.1 1161.2 646.9 C1162.1 646.6 1163.1 646.3 1164.1 646.1 C1165.0 645.8 1166.0 645.5 1166.9 645.3 C1167.9 645.0 1168.9 644.7 1169.8 644.5 C1170.8 644.2 1171.8 643.9 1172.7 643.7 C1173.7 643.4 1174.6 643.1 1175.6 642.8 C1176.5 642.5 1177.5 642.3 1178.5 642.0 C1179.4 641.7 1180.4 641.4 1181.3 641.1 C1182.3 640.8 1183.2 640.5 1184.2 640.2 C1185.1 639.9 1186.1 639.6 1187.0 639.3 C1188.0 639.0 1188.9 638.7 1189.9 638.4 C1190.8 638.1 1191.8 637.8 1192.7 637.5 C1193.7 637.1 1194.6 636.7 1195.5 636.3 C1196.4 635.9 1197.3 635.4 1198.2 635.0 C1199.0 634.6 1199.9 634.2 1200.8 633.7 C1201.7 633.3 1202.6 632.9 1203.5 632.4 C1204.4 632.0 1205.3 631.5 1206.1 631.1 C1207.0 630.7 1207.9 630.2 1208.8 629.8 C1209.7 629.3 1210.5 628.9 1211.4 628.4 C1212.3 627.9 1213.1 627.5 1214.0 627.0 C1214.9 626.5 1215.7 626.1 1216.6 625.6 C1217.5 625.1 1218.3 624.7 1219.2 624.2 C1220.1 623.7 1220.9 623.2 1221.8 622.7 C1222.6 622.3 1223.5 621.8 1224.3 621.3 C1225.2 620.8 1226.0 620.3 1226.9 619.8 C1227.7 619.3 1228.5 618.8 1229.4 618.3 C1230.2 617.8 1231.1 617.3 1231.9 616.7 C1232.7 616.2 1233.6 615.7 1234.4 615.2 C1235.2 614.7 1236.0 614.2 1236.9 613.6 C1237.7 613.1 1238.5 612.5 1239.3 612.0 C1240.1 611.5 1240.9 610.9 1241.7 610.4 C1242.5 609.8 1243.3 609.2 1244.1 608.7 C1244.9 608.1 1245.7 607.6 1246.5 607.0 C1247.3 606.4 1248.1 605.9 1248.9 605.3 C1249.7 604.7 1250.5 604.1 1251.2 603.6 C1252.0 603.0 1252.8 602.4 1253.6 601.8 C1254.3 601.2 1255.1 600.6 1255.9 600.0 C1256.6 599.4 1257.4 598.8 1258.2 598.2 C1258.9 597.6 1259.7 597.0 1260.4 596.4 C1261.2 595.8 1262.0 595.2 1262.7 594.6 C1263.5 593.9 1264.2 593.3 1264.9 592.7 C1265.7 592.1 1266.4 591.4 1267.1 590.8 C1267.9 590.2 1268.6 589.5 1269.3 588.9 C1270.1 588.2 1270.8 587.6 1271.5 586.9 C1272.2 586.3 1272.9 585.6 1273.7 585.0 C1274.4 584.3 1275.1 583.6 1275.8 583.0 C1276.5 582.3 1277.2 581.6 1277.9 581.0 C1278.6 580.3 1279.3 579.6 1280.0 578.9 C1280.7 578.2 1281.4 577.6 1282.0 576.9 C1282.7 576.2 1283.4 575.5 1284.1 574.8 C1284.8 574.1 1285.4 573.4 1286.1 572.7 C1286.8 572.0 1287.4 571.3 1288.1 570.5 C1288.7 569.8 1289.4 569.1 1290.1 568.4 C1290.7 567.7 1291.4 566.9 1292.0 566.2 C1292.6 565.5 1293.3 564.7 1293.9 564.0 C1294.6 563.2 1295.2 562.5 1295.8 561.8 C1296.4 561.0 1297.1 560.2 1297.7 559.5 C1298.3 558.7 1298.9 558.0 1299.5 557.2 C1300.1 556.4 1300.7 555.7 1301.3 554.9 C1302.0 554.1 1302.5 553.3 1303.1 552.6 C1303.7 551.8 1304.3 551.0 1304.9 550.2 C1305.5 549.4 1306.1 548.6 1306.7 547.8 C1307.2 547.0 1307.8 546.2 1308.4 545.4 C1308.9 544.6 1309.5 543.8 1310.1 542.9 C1310.6 542.1 1311.2 541.3 1311.7 540.5 C1312.3 539.6 1312.8 538.8 1313.4 538.0 C1313.9 537.1 1314.4 536.3 1315.0 535.5 C1315.5 534.6 1316.0 533.8 1316.6 532.9 C1317.1 532.1 1317.6 531.2 1318.1 530.3 C1318.6 529.5 1319.1 528.6 1319.7 527.7 C1320.2 526.9 1320.7 526.0 1321.2 525.1 C1321.7 524.3 1322.2 523.4 1322.7 522.5 C1323.2 521.6 1323.6 520.7 1324.1 519.8 C1324.6 518.9 1325.1 518.1 1325.6 517.2 C1326.1 516.3 1326.5 515.4 1327.0 514.5 C1327.5 513.6 1328.0 512.7 1328.4 511.7 C1328.9 510.8 1329.3 509.9 1329.8 509.0 C1330.3 508.1 1330.7 507.2 1331.2 506.3 C1331.6 505.3 1332.1 504.4 1332.5 503.5 C1333.0 502.6 1333.4 501.7 1333.8 500.7 C1334.3 499.8 1334.7 498.9 1335.1 497.9 C1335.6 497.0 1336.0 496.1 1336.4 495.1 C1336.9 494.2 1337.3 493.2 1337.7 492.3 C1338.1 491.4 1338.5 490.4 1339.0 489.5 C1339.4 488.5 1339.8 487.6 1340.2 486.6 C1340.6 485.7 1341.0 484.7 1341.4 483.8 C1341.8 482.8 1342.2 481.9 1342.6 480.9 C1343.0 480.0 1343.4 479.0 1343.8 478.0 C1344.2 477.1 1344.6 476.1 1345.0 475.2 C1345.4 474.2 1345.7 473.2 1346.1 472.3 C1346.5 471.3 1346.9 470.4 1347.3 469.4 C1347.6 468.4 1348.0 467.5 1348.4 466.5 C1348.8 465.5 1349.1 464.6 1349.5 463.6 C1349.9 462.6 1350.2 461.7 1350.6 460.7 C1351.0 459.7 1351.3 458.7 1351.7 457.8 C1352.1 456.8 1352.4 455.8 1352.8 454.9 C1353.1 453.9 1353.5 452.9 1353.8 451.9 C1354.2 451.0 1354.6 450.0 1354.9 449.0 C1355.3 448.1 1355.6 447.1 1355.9 446.1 C1356.3 445.1 1356.6 444.2 1357.0 443.2 C1357.3 442.2 1357.7 441.3 1358.0 440.3 C1358.3 439.3 1358.7 438.4 1359.0 437.4 C1359.4 436.4 1359.7 435.4 1360.0 434.5 C1360.4 433.5 1360.7 432.5 1361.0 431.6 C1361.4 430.6 1361.7 429.6 1362.0 428.7 C1362.3 427.7 1362.7 426.8 1363.0 425.8 C1363.3 424.8 1363.7 423.9 1364.0 422.9 C1364.3 421.9 1364.6 421.0 1364.9 420.0 C1365.3 419.1 1365.6 418.1 1365.9 417.1 C1366.2 416.2 1366.5 415.2 1366.9 414.3 C1367.2 413.3 1367.5 412.4 1367.8 411.4 C1368.1 410.5 1368.4 409.5 1368.7 408.5 C1369.0 407.6 1369.4 406.6 1369.7 405.7 C1370.0 404.7 1370.3 403.8 1370.6 402.8 C1370.9 401.9 1371.2 400.9 1371.5 400.0 C1371.8 399.0 1372.1 398.1 1372.4 397.1 C1372.7 396.2 1373.0 395.2 1373.3 394.3 C1373.6 393.3 1373.9 392.4 1374.2 391.4 C1374.5 390.5 1374.8 389.5 1375.1 388.6 C1375.4 387.6 1375.7 386.7 1375.9 385.7 C1376.2 384.8 1376.5 383.8 1376.8 382.9 C1377.1 381.9 1377.4 381.0 1377.7 380.0 C1378.0 379.1 1378.2 378.1 1378.5 377.2 C1378.8 376.2 1379.1 375.3 1379.4 374.4 C1379.6 373.4 1379.9 372.5 1380.2 371.5 C1380.5 370.6 1380.7 369.6 1381.0 368.7 C1381.3 367.7 1381.6 366.8 1381.8 365.8 C1382.1 364.9 1382.4 363.9 1382.6 363.0 C1382.9 362.0 1383.2 361.1 1383.4 360.1 C1383.7 359.2 1384.0 358.2 1384.2 357.3 C1384.5 356.3 1384.8 355.4 1385.0 354.4 C1385.3 353.5 1385.5 352.5 1385.8 351.6 C1386.0 350.6 1386.3 349.6 1386.5 348.7 C1386.7 347.7 1386.8 346.7 1387.0 345.7 C1387.1 344.8 1387.3 343.8 1387.5 342.8 C1387.6 341.8 1387.8 340.8 1387.9 339.9 C1388.1 338.9 1388.2 337.9 1388.4 336.9 C1388.5 335.9 1388.7 334.9 1388.8 334.0 C1389.0 333.0 1389.1 332.0 1389.2 331.0 C1389.4 330.0 1389.5 329.0 1389.7 328.1 C1389.9 327.1 1390.1 326.1 1390.4 325.2 C1390.6 324.2 1390.8 323.2 1391.0 322.3 C1391.2 321.3 1391.4 320.3 1391.6 319.4 C1391.8 318.4 1392.0 317.4 1392.2 316.4 C1392.4 315.5 1392.6 314.5 1392.7 313.5 C1392.9 312.6 1393.1 311.6 1393.3 310.6 C1393.5 309.6 1393.7 308.7 1393.9 307.7 C1394.1 306.7 1394.2 305.7 1394.4 304.8 C1394.6 303.8 1394.8 302.8 1395.0 301.8 C1395.1 300.9 1395.3 299.9 1395.5 298.9 C1395.7 297.9 1395.8 297.0 1396.0 296.0 C1396.2 295.0 1396.4 294.0 1396.5 293.0 C1396.7 292.1 1396.8 291.1 1397.0 290.1 C1397.1 289.1 1397.2 288.1 1397.4 287.1 C1397.5 286.1 1397.6 285.2 1397.7 284.2 C1397.8 283.2 1398.0 282.2 1398.1 281.2 C1398.2 280.2 1398.3 279.2 1398.4 278.2 C1398.5 277.3 1398.6 276.3 1398.7 275.3 C1398.8 274.3 1398.9 273.3 1399.0 272.3 C1399.1 271.3 1399.2 270.3 1399.3 269.3 C1399.4 268.3 1399.5 267.4 1399.6 266.4 C1399.7 265.4 1399.8 264.4 1399.9 263.4 C1400.0 262.4 1400.1 261.4 1400.1 260.4 C1400.2 259.4 1400.2 258.4 1400.2 257.4 C1400.3 256.4 1400.3 255.4 1400.3 254.4 C1400.3 253.4 1400.4 252.4 1400.4 251.4 C1400.4 250.4 1400.4 249.4 1400.4 248.4 C1400.4 247.4 1400.4 246.4 1400.4 245.4 C1400.4 244.4 1400.4 243.4 1400.4 242.4 C1400.4 241.4 1400.4 240.4 1400.4 239.5 C1400.5 238.5 1400.6 237.5 1400.7 236.5 C1400.8 235.5 1400.9 234.5 1401.0 233.5 C1401.1 232.6 1401.2 231.6 1401.3 230.6 C1401.4 229.6 1401.8 229.1 1401.6 227.6 C1401.5 226.2 1401.0 225.4 1400.4 222.0 C1399.8 218.6 1399.7 211.5 1398.3 207.0 C1396.9 202.5 1394.4 198.5 1392.0 195.0 C1389.6 191.5 1386.0 189.5 1383.8 186.0 C1381.5 182.5 1378.8 178.1 1378.5 174.0 C1378.2 169.9 1381.9 166.4 1381.7 161.7 C1381.5 157.0 1378.7 151.2 1377.5 146.0 C1376.3 140.8 1375.0 134.2 1374.4 130.4 C1373.8 126.7 1374.0 124.7 1373.9 123.5" stroke="#808000"/>
<path d="M1181.8 856.9 C1181.3 856.8 1179.8 856.4 1178.8 856.2 C1177.9 855.9 1176.9 855.7 1175.9 855.5 C1174.9 855.2 1173.9 855.0 1173.0 854.8 C1172.0 854.5 1171.0 854.3 1170.0 854.1 C1169.0 853.8 1168.1 853.6 1167.1 853.4 C1166.1 853.1 1165.1 852.9 1164.1 852.6 C1163.2 852.4 1162.2 852.2 1161.2 851.9 C1160.2 851.7 1159.2 851.4 1158.3 851.2 C1157.3 850.9 1156.3 850.7 1155.3 850.5 C1154.3 850.2 1153.4 850.0 1152.4 849.7 C1151.4 849.5 1150.4 849.2 1149.4 849.0 C1148.5 848.7 1147.5 848.5 1146.5 848.2 C1145.5 848.0 1144.6 847.7 1143.6 847.5 C1142.6 847.2 1141.6 847.0 1140.6 846.7 C1139.7 846.5 1138.7 846.2 1137.7 846.0 C1136.7 845.7 1135.7 845.5 1134.8 845.2 C1133.8 844.9 1132.8 844.7 1131.8 844.4 C1130.9 844.2 1129.9 843.9 1128.9 843.7 C1127.9 843.4 1127.0 843.1 1126.0 842.9 C1125.0 842.6 1124.0 842.3 1123.0 842.1 C1122.1 841.8 1121.1 841.6 1120.1 841.3 C1119.1 841.0 1118.2 840.8 1117.2 840.5 C1116.2 840.2 1115.2 840.0 1114.3 839.7 C1113.3 839.4 1112.3 839.1 1111.3 838.9 C1110.4 838.6 1109.4 838.3 1108.4 838.1 C1107.4 837.8 1106.5 837.5 1105.5 837.2 C1104.5 837.0 1103.5 836.7 1102.6 836.4 C1101.6 836.1 1100.6 835.8 1099.7 835.6 C1098.7 835.3 1097.7 835.0 1096.7 834.7 C1095.8 834.4 1094.8 834.2 1093.8 833.9 C1092.9 833.6 1091.9 833.3 1090.9 833.0 C1089.9 832.7 1089.0 832.4 1088.0 832.2 C1087.0 831.9 1086.1 831.6 1085.1 831.3 C1084.1 831.0 1083.1 830.7 1082.2 830.4 C1081.2 830.1 1080.2 829.8 1079.3 829.5 C1078.3 829.2 1077.3 828.9 1076.4 828.6 C1075.4 828.3 1074.4 828.0 1073.5 827.7 C1072.5 827.4 1071.5 827.1 1070.6 826.8 C1069.6 826.5 1068.6 826.2 1067.7 825.9 C1066.7 825.6 1065.7 825.3 1064.8 825.0 C1063.8 824.7 1062.8 824.4 1061.9 824.1 C1060.9 823.8 1060.0 823.5 1059.0 823.2 C1058.0 822.8 1057.1 822.5 1056.1 822.2 C1055.1 821.9 1054.2 821.6 1053.2 821.3 C1052.3 820.9 1051.3 820.6 1050.3 820.3 C1049.4 820.0 1048.4 819.7 1047.4 819.3 C1046.5 819.0 1045.5 818.7 1044.6 818.4 C1043.6 818.0 1042.7 817.7 1041.7 817.4 C1040.7 817.1 1039.8 816.7 1038.8 816.4 C1037.9 816.1 1036.9 815.7 1036.0 815.4 C1035.0 815.1 1034.0 814.7 1033.1 814.4 C1032.1 814.1 1031.2 813.7 1030.2 813.4 C1029.3 813.1 1028.3 812.7 1027.4 812.4 C1026.4 812.0 1025.5 811.7 1024.5 811.4 C1023.6 811.0 1022.6 810.7 1021.7 810.3 C1020.7 810.0 1019.7 809.6 1018.8 809.3 C1017.8 808.9 1016.9 808.6 1016.0 808.2 C1015.0 807.9 1014.1 807.5 1013.1 807.2 C1012.2 806.8 1011.2 806.4 1010.3 806.1 C1009.3 805.7 1008.4 805.4 1007.4 805.0 C1006.5 804.6 1005.5 804.3 1004.6 803.9 C1003.7 803.6 1002.7 803.2 1001.8 802.8 C1000.8 802.5 999.9 802.1 998.9 801.7 C998.0 801.3 997.1 801.0 996.1 800.6 C995.2 800.2 994.2 799.9 993.3 799.5 C992.4 799.1 991.4 798.7 990.5 798.3 C989.5 798.0 988.6 797.6 987.7 797.2 C986.7 796.8 985.8 796.4 984.9 796.0 C983.9 795.7 983.0 795.3 982.1 794.9 C981.1 794.5 980.2 794.1 979.3 793.7 C978.3 793.3 977.4 792.9 976.5 792.5 C975.5 792.1 974.6 791.7 973.7 791.3 C972.7 790.9 971.8 790.5 970.9 790.1 C970.0 789.7 969.0 789.3 968.1 788.9 C967.2 788.5 966.2 788.1 965.3 787.7 C964.4 787.3 963.5 786.9 962.5 786.5 C961.6 786.1 960.7 785.7 959.8 785.2 C958.9 784.8 957.9 784.4 957.0 784.0 C956.1 783.6 955.2 783.2 954.2 782.7 C953.3 782.3 952.4 781.9 951.5 781.5 C950.6 781.1 949.6 780.6 948.7 780.2 C947.8 779.8 946.9 779.4 946.0 779.0 C945.0 778.5 944.1 778.1 943.2 777.7 C942.3 777.3 941.4 776.8 940.5 776.4 C939.5 776.0 938.6 775.6 937.7 775.1 C936.8 774.7 935.9 774.3 934.9 773.9 C934.0 773.5 933.1 773.0 932.2 772.6 C931.3 772.2 930.4 771.8 929.4 771.3 C928.5 770.9 927.6 770.5 926.7 770.1 C925.8 769.6 924.9 769.2 923.9 768.8 C923.0 768.4 922.1 767.9 921.2 767.5 C920.3 767.1 919.4 766.7 918.4 766.2 C917.5 765.8 916.6 765.4 915.7 765.0 C914.8 764.6 913.9 764.1 912.9 763.7 C912.0 763.3 911.1 762.9 910.2 762.5 C909.3 762.1 908.3 761.6 907.4 761.2 C906.5 760.8 905.6 760.4 904.7 760.0 C903.7 759.6 902.8 759.2 901.9 758.8 C901.0 758.4 900.1 757.9 899.1 757.5 C898.2 757.1 897.3 756.7 896.4 756.3 C895.4 755.9 894.5 755.5 893.6 755.1 C892.7 754.7 891.7 754.3 890.8 753.9 C889.9 753.5 889.0 753.1 888.0 752.7 C887.1 752.4 886.2 752.0 885.3 751.6 C884.3 751.2 883.4 750.8 882.5 750.4 C881.5 750.0 880.6 749.7 879.7 749.3 C878.8 748.9 877.8 748.5 876.9 748.1 C876.0 747.8 875.0 747.4 874.1 747.0 C873.2 746.7 872.2 746.3 871.3 745.9 C870.3 745.6 869.4 745.2 868.5 744.9 C867.5 744.5 866.6 744.1 865.7 743.8 C864.7 743.4 863.8 743.1 862.8 742.7 C861.9 742.4 860.9 742.1 860.0 741.7 C859.1 741.4 858.1 741.0 857.2 740.7 C856.2 740.4 855.3 740.0 854.3 739.7 C853.4 739.4 852.4 739.1 851.5 738.8 C850.5 738.4 849.6 738.1 848.6 737.8 C847.7 737.5 846.7 737.2 845.7 736.9 C844.8 736.6 843.8 736.3 842.9 736.0 C841.9 735.7 840.9 735.4 840.0 735.1 C839.0 734.8 838.1 734.5 837.1 734.3 C836.1 734.0 835.2 733.7 834.2 733.4 C833.2 733.2 832.2 732.9 831.3 732.6 C830.3 732.4 829.3 732.1 828.4 731.9 C827.4 731.6 826.4 731.3 825.4 731.1 C824.5 730.9 823.5 730.6 822.5 730.4 C821.5 730.1 820.5 729.9 819.6 729.7 C818.6 729.4 817.6 729.2 816.6 729.0 C815.6 728.7 814.6 728.5 813.7 728.3 C812.7 728.1 811.7 727.9 810.7 727.7 C809.7 727.5 808.7 727.3 807.7 727.1 C806.7 726.8 805.7 726.6 804.7 726.5 C803.8 726.3 802.8 726.1 801.8 725.9 C800.8 725.7 799.8 725.5 798.8 725.3 C797.8 725.1 796.8 725.0 795.8 724.8 C794.8 724.6 793.8 724.4 792.8 724.3 C791.8 724.1 790.8 723.9 789.8 723.8 C788.8 723.6 787.8 723.5 786.8 723.3 C785.8 723.2 784.8 723.0 783.8 722.9 C782.8 722.7 781.8 722.6 780.7 722.4 C779.7 722.3 778.7 722.1 777.7 722.0 C776.7 721.9 775.7 721.7 774.7 721.6 C773.7 721.5 772.7 721.4 771.7 721.2 C770.7 721.1 769.7 721.0 768.6 720.9 C767.6 720.8 766.6 720.6 765.6 720.5 C764.6 720.4 763.6 720.3 762.6 720.2 C761.6 720.1 760.5 720.0 759.5 719.9 C758.5 719.8 757.5 719.7 756.5 719.6 C755.5 719.5 754.4 719.4 753.4 719.4 C752.4 719.3 751.4 719.2 750.4 719.1 C749.4 719.0 748.3 718.9 747.3 718.9 C746.3 718.8 745.3 718.7 744.3 718.6 C743.3 718.6 742.2 718.5 741.2 718.4 C740.2 718.4 739.2 718.3 738.2 718.2 C737.1 718.2 736.1 718.1 735.1 718.1 C734.1 718.0 733.1 718.0 732.0 717.9 C731.0 717.9 730.0 717.8 729.0 717.8 C728.0 717.7 726.9 717.7 725.9 717.6 C724.9 717.6 723.9 717.6 722.9 717.5 C721.8 717.5 723.6 717.7 719.8 717.4 C716.0 717.2 720.0 716.8 700.0 716.0 C680.0 715.2 633.3 713.3 600.0 712.5 C566.7 711.7 530.0 711.3 500.0 711.0 C470.0 710.7 459.7 710.6 420.0 710.5 C380.3 710.4 262.0 710.5 262.0 710.5 C262.0 710.5 380.3 710.6 420.0 710.5 C459.7 710.4 470.0 710.4 500.0 710.0 C530.0 709.6 566.6 708.4 600.0 708.0 C633.4 707.6 683.1 707.8 700.4 707.7 C717.6 707.5 702.3 707.4 703.3 707.3 C704.3 707.2 705.3 707.0 706.3 706.9 C707.3 706.8 708.3 706.7 709.3 706.6 C710.3 706.4 711.2 706.3 712.2 706.2 C713.2 706.1 714.2 706.0 715.2 705.9 C716.2 705.8 717.2 705.7 718.2 705.6 C719.2 705.4 720.2 705.3 721.1 705.2 C722.1 705.1 723.1 705.0 724.1 704.9 C725.1 704.8 726.1 704.7 727.1 704.6 C728.1 704.5 729.1 704.4 730.1 704.3 C731.1 704.2 732.1 704.1 733.1 704.0 C734.1 703.9 735.1 703.9 736.0 703.8 C737.0 703.7 738.0 703.6 739.0 703.5 C740.0 703.4 741.0 703.3 742.0 703.2 C743.0 703.1 744.0 703.1 745.0 703.0 C746.0 702.9 747.0 702.8 748.0 702.7 C749.0 702.6 750.0 702.6 751.0 702.5 C752.0 702.4 753.0 702.3 754.0 702.3 C755.0 702.2 756.0 702.1 757.0 702.0 C758.0 702.0 759.0 701.9 760.0 701.8 C761.0 701.7 762.0 701.7 763.0 701.6 C764.0 701.5 765.0 701.5 766.0 701.4 C767.0 701.3 768.0 701.3 769.0 701.2 C770.0 701.1 771.0 701.1 772.0 701.0 C773.0 700.9 774.0 700.9 775.0 700.8 C776.0 700.7 777.0 700.7 778.0 700.6 C779.0 700.5 780.0 700.5 781.0 700.4 C782.0 700.4 783.0 700.3 784.0 700.3 C785.0 700.2 786.0 700.1 787.0 700.1 C788.0 700.0 789.0 700.0 790.0 699.9 C791.0 699.9 792.0 699.8 793.0 699.8 C794.0 699.7 795.0 699.7 796.0 699.6 C797.0 699.5 798.0 699.5 799.0 699.4 C800.0 699.4 801.0 699.3 802.0 699.3 C803.0 699.2 804.0 699.2 805.1 699.1 C806.1 699.1 807.1 699.1 808.1 699.0 C809.1 699.0 810.1 698.9 811.1 698.9 C812.1 698.8 813.1 698.8 814.1 698.7 C815.1 698.7 816.1 698.6 817.1 698.6 C818.1 698.6 819.1 698.5 820.1 698.5 C821.1 698.4 822.1 698.4 823.1 698.3 C824.2 698.3 825.2 698.3 826.2 698.2 C827.2 698.2 828.2 698.1 829.2 698.1 C830.2 698.1 831.2 698.0 832.2 698.0 C833.2 697.9 834.2 697.9 835.2 697.9 C836.2 697.8 837.2 697.8 838.2 697.7 C839.3 697.7 840.3 697.7 841.3 697.6 C842.3 697.6 843.3 697.5 844.3 697.5 C845.3 697.5 846.3 697.4 847.3 697.4 C848.3 697.3 849.3 697.3 850.3 697.3 C851.3 697.2 852.4 697.2 853.4 697.2 C854.4 697.1 855.4 697.1 856.4 697.0 C857.4 697.0 858.4 697.0 859.4 696.9 C860.4 696.9 861.4 696.9 862.4 696.8 C863.4 696.8 864.5 696.7 865.5 696.7 C866.5 696.7 867.5 696.6 868.5 696.6 C869.5 696.6 870.5 696.5 871.5 696.5 C872.5 696.4 873.5 696.4 874.5 696.4 C875.5 696.3 876.6 696.3 877.6 696.3 C878.6 696.2 879.6 696.2 880.6 696.1 C881.6 696.1 882.6 696.1 883.6 696.0 C884.6 696.0 885.6 696.0 886.6 695.9 C887.7 695.9 888.7 695.8 889.7 695.8 C890.7 695.8 891.7 695.7 892.7 695.7 C893.7 695.6 894.7 695.6 895.7 695.5 C896.7 695.5 897.7 695.5 898.7 695.4 C899.8 695.4 900.8 695.3 901.8 695.3 C902.8 695.3 903.8 695.2 904.8 695.2 C905.8 695.1 906.8 695.1 907.8 695.0 C908.8 695.0 909.8 694.9 910.9 694.9 C911.9 694.9 912.9 694.8 913.9 694.8 C914.9 694.7 915.9 694.7 916.9 694.6 C917.9 694.6 918.9 694.5 919.9 694.5 C920.9 694.4 921.9 694.4 923.0 694.3 C924.0 694.3 925.0 694.2 926.0 694.2 C927.0 694.1 928.0 694.1 929.0 694.0 C930.0 694.0 931.0 693.9 932.0 693.9 C933.0 693.8 934.0 693.7 935.0 693.7 C936.1 693.6 937.1 693.6 938.1 693.5 C939.1 693.5 940.1 693.4 941.1 693.3 C942.1 693.3 943.1 693.2 944.1 693.2 C945.1 693.1 946.1 693.0 947.1 693.0 C948.1 692.9 949.1 692.9 950.2 692.8 C951.2 692.7 952.2 692.7 953.2 692.6 C954.2 692.5 955.2 692.5 956.2 692.4 C957.2 692.3 958.2 692.3 959.2 692.2 C960.2 692.1 961.2 692.0 962.2 692.0 C963.2 691.9 964.2 691.8 965.2 691.7 C966.3 691.7 967.3 691.6 968.3 691.5 C969.3 691.4 970.3 691.4 971.3 691.3 C972.3 691.2 973.3 691.1 974.3 691.1 C975.3 691.0 976.3 690.9 977.3 690.8 C978.3 690.7 979.3 690.6 980.3 690.6 C981.3 690.5 982.3 690.4 983.3 690.3 C984.3 690.2 985.3 690.1 986.3 690.0 C987.3 689.9 988.3 689.8 989.4 689.7 C990.4 689.7 991.4 689.6 992.4 689.5 C993.4 689.4 994.4 689.3 995.4 689.2 C996.4 689.1 997.4 689.0 998.4 688.9 C999.4 688.8 1000.4 688.7 1001.4 688.6 C1002.4 688.5 1003.4 688.4 1004.4 688.2 C1005.4 688.1 1006.4 688.0 1007.4 687.9 C1008.4 687.8 1009.4 687.7 1010.4 687.6 C1011.4 687.5 1012.4 687.4 1013.4 687.2 C1014.4 687.1 1015.4 687.0 1016.4 686.9 C1017.4 686.8 1018.4 686.6 1019.4 686.5 C1020.4 686.4 1021.4 686.3 1022.4 686.1 C1023.4 686.0 1024.4 685.9 1025.4 685.8 C1026.4 685.6 1027.4 685.5 1028.4 685.4 C1029.4 685.2 1030.4 685.1 1031.4 685.0 C1032.4 684.8 1033.4 684.7 1034.4 684.5 C1035.3 684.4 1036.3 684.3 1037.3 684.1 C1038.3 684.0 1039.3 683.8 1040.3 683.7 C1041.3 683.5 1042.3 683.4 1043.3 683.2 C1044.3 683.1 1045.3 682.9 1046.3 682.8 C1047.3 682.6 1048.3 682.5 1049.3 682.3 C1050.3 682.1 1051.3 682.0 1052.3 681.8 C1053.3 681.7 1054.2 681.5 1055.2 681.3 C1056.2 681.2 1057.2 681.0 1058.2 680.8 C1059.2 680.7 1060.2 680.5 1061.2 680.3 C1062.2 680.1 1063.2 680.0 1064.2 679.8 C1065.2 679.6 1066.1 679.4 1067.1 679.2 C1068.1 679.0 1069.1 678.9 1070.1 678.7 C1071.1 678.5 1072.1 678.3 1073.1 678.1 C1074.1 677.9 1075.1 677.7 1076.0 677.5 C1077.0 677.3 1078.0 677.1 1079.0 676.9 C1080.0 676.7 1081.0 676.5 1082.0 676.3 C1083.0 676.1 1083.9 675.9 1084.9 675.7 C1085.9 675.5 1086.9 675.3 1087.9 675.1 C1088.9 674.8 1089.9 674.6 1090.8 674.4 C1091.8 674.2 1092.8 674.0 1093.8 673.7 C1094.8 673.5 1095.8 673.3 1096.7 673.1 C1097.7 672.8 1098.7 672.6 1099.7 672.4 C1100.7 672.1 1101.7 671.9 1102.6 671.7 C1103.6 671.4 1104.6 671.2 1105.6 670.9 C1106.6 670.7 1107.6 670.4 1108.5 670.2 C1109.5 669.9 1110.5 669.7 1111.5 669.4 C1112.5 669.2 1113.4 668.9 1114.4 668.7 C1115.4 668.4 1116.4 668.1 1117.3 667.9 C1118.3 667.6 1119.3 667.4 1120.3 667.1 C1121.2 666.8 1122.2 666.5 1123.2 666.3 C1124.2 666.0 1125.1 665.7 1126.1 665.4 C1127.1 665.2 1128.1 664.9 1129.0 664.6 C1130.0 664.3 1131.0 664.0 1131.9 663.7 C1132.9 663.4 1133.9 663.1 1134.8 662.8 C1135.8 662.5 1136.8 662.2 1137.7 661.9 C1138.7 661.6 1139.7 661.3 1140.6 661.0 C1141.6 660.7 1142.6 660.4 1143.5 660.1 C1144.5 659.8 1145.4 659.5 1146.4 659.1 C1147.4 658.8 1148.3 658.5 1149.3 658.2 C1150.2 657.8 1151.2 657.5 1152.1 657.2 C1153.1 656.9 1154.0 656.5 1155.0 656.2 C1155.9 655.8 1156.9 655.5 1157.8 655.2 C1158.8 654.8 1159.7 654.5 1160.7 654.1 C1161.6 653.8 1162.6 653.4 1163.5 653.1 C1164.5 652.7 1165.4 652.4 1166.3 652.0 C1167.3 651.6 1168.2 651.3 1169.2 650.9 C1170.1 650.5 1171.0 650.2 1172.0 649.8 C1172.9 649.4 1173.8 649.1 1174.8 648.7 C1175.7 648.3 1176.6 647.9 1177.5 647.5 C1178.5 647.1 1179.4 646.8 1180.3 646.4 C1181.2 646.0 1182.2 645.6 1183.1 645.2 C1184.0 644.8 1184.9 644.4 1185.8 644.0 C1186.8 643.6 1187.7 643.2 1188.6 642.8 C1189.5 642.3 1190.4 641.9 1191.3 641.5 C1192.2 641.1 1193.1 640.7 1194.0 640.3 C1194.9 639.8 1195.8 639.4 1196.7 639.0 C1197.6 638.5 1198.5 638.1 1199.4 637.7 C1200.3 637.2 1201.2 636.8 1202.1 636.4 C1203.0 635.9 1203.9 635.5 1204.8 635.0 C1205.7 634.6 1206.6 634.1 1207.5 633.7 C1208.3 633.2 1209.2 632.7 1210.1 632.3 C1211.0 631.8 1211.9 631.3 1212.7 630.9 C1213.6 630.4 1214.5 629.9 1215.4 629.5 C1216.2 629.0 1217.1 628.5 1218.0 628.0 C1218.8 627.5 1219.7 627.0 1220.5 626.5 C1221.4 626.1 1222.3 625.6 1223.1 625.1 C1224.0 624.6 1224.8 624.1 1225.7 623.6 C1226.5 623.1 1227.4 622.5 1228.2 622.0 C1229.1 621.5 1229.9 621.0 1230.7 620.5 C1231.6 620.0 1232.4 619.4 1233.3 618.9 C1234.1 618.4 1234.9 617.9 1235.8 617.3 C1236.6 616.8 1237.4 616.2 1238.2 615.7 C1239.1 615.2 1239.9 614.6 1240.7 614.1 C1241.5 613.5 1242.3 613.0 1243.1 612.4 C1243.9 611.9 1244.8 611.3 1245.6 610.7 C1246.4 610.2 1247.2 609.6 1248.0 609.0 C1248.8 608.5 1249.6 607.9 1250.4 607.3 C1251.1 606.7 1251.9 606.1 1252.7 605.6 C1253.5 605.0 1254.3 604.4 1255.1 603.8 C1255.9 603.2 1256.6 602.6 1257.4 602.0 C1258.2 601.4 1259.0 600.8 1259.7 600.2 C1260.5 599.6 1261.3 599.0 1262.0 598.3 C1262.8 597.7 1263.5 597.1 1264.3 596.5 C1265.1 595.9 1265.8 595.2 1266.6 594.6 C1267.3 594.0 1268.0 593.3 1268.8 592.7 C1269.5 592.0 1270.3 591.4 1271.0 590.7 C1271.7 590.1 1272.5 589.4 1273.2 588.8 C1273.9 588.1 1274.6 587.5 1275.4 586.8 C1276.1 586.1 1276.8 585.5 1277.5 584.8 C1278.2 584.1 1278.9 583.4 1279.6 582.8 C1280.3 582.1 1281.0 581.4 1281.7 580.7 C1282.4 580.0 1283.1 579.3 1283.8 578.6 C1284.5 577.9 1285.2 577.2 1285.9 576.5 C1286.6 575.8 1287.2 575.1 1287.9 574.4 C1288.6 573.7 1289.3 573.0 1289.9 572.2 C1290.6 571.5 1291.3 570.8 1291.9 570.1 C1292.6 569.3 1293.2 568.6 1293.9 567.8 C1294.5 567.1 1295.2 566.4 1295.8 565.6 C1296.5 564.9 1297.1 564.1 1297.7 563.4 C1298.4 562.6 1299.0 561.8 1299.6 561.1 C1300.2 560.3 1300.9 559.5 1301.5 558.8 C1302.1 558.0 1302.7 557.2 1303.3 556.4 C1303.9 555.6 1304.5 554.9 1305.1 554.1 C1305.7 553.3 1306.3 552.5 1306.9 551.7 C1307.5 550.9 1308.1 550.1 1308.7 549.3 C1309.3 548.4 1309.8 547.6 1310.4 546.8 C1311.0 546.0 1311.6 545.2 1312.1 544.3 C1312.7 543.5 1313.2 542.7 1313.8 541.9 C1314.4 541.0 1314.9 540.2 1315.5 539.3 C1316.0 538.5 1316.5 537.6 1317.1 536.8 C1317.6 535.9 1318.2 535.1 1318.7 534.2 C1319.2 533.4 1319.7 532.5 1320.3 531.6 C1320.8 530.8 1321.3 529.9 1321.8 529.0 C1322.3 528.1 1322.8 527.3 1323.3 526.4 C1323.8 525.5 1324.3 524.6 1324.8 523.7 C1325.3 522.8 1325.8 521.9 1326.3 521.0 C1326.8 520.1 1327.3 519.2 1327.8 518.3 C1328.3 517.4 1328.7 516.5 1329.2 515.6 C1329.7 514.7 1330.2 513.8 1330.6 512.9 C1331.1 512.0 1331.6 511.1 1332.0 510.1 C1332.5 509.2 1333.0 508.3 1333.4 507.4 C1333.9 506.4 1334.3 505.5 1334.8 504.6 C1335.2 503.7 1335.7 502.7 1336.1 501.8 C1336.5 500.9 1337.0 499.9 1337.4 499.0 C1337.8 498.0 1338.3 497.1 1338.7 496.2 C1339.1 495.2 1339.6 494.3 1340.0 493.3 C1340.4 492.4 1340.8 491.4 1341.2 490.5 C1341.7 489.5 1342.1 488.6 1342.5 487.6 C1342.9 486.7 1343.3 485.7 1343.7 484.8 C1344.1 483.8 1344.5 482.8 1344.9 481.9 C1345.3 480.9 1345.7 480.0 1346.1 479.0 C1346.5 478.0 1346.9 477.1 1347.3 476.1 C1347.7 475.1 1348.1 474.2 1348.4 473.2 C1348.8 472.2 1349.2 471.3 1349.6 470.3 C1350.0 469.3 1350.3 468.4 1350.7 467.4 C1351.1 466.4 1351.5 465.5 1351.8 464.5 C1352.2 463.5 1352.6 462.5 1353.0 461.6 C1353.3 460.6 1353.7 459.6 1354.0 458.6 C1354.4 457.7 1354.8 456.7 1355.1 455.7 C1355.5 454.8 1355.8 453.8 1356.2 452.8 C1356.5 451.8 1356.9 450.9 1357.3 449.9 C1357.6 448.9 1358.0 447.9 1358.3 447.0 C1358.6 446.0 1359.0 445.0 1359.3 444.0 C1359.7 443.1 1360.0 442.1 1360.4 441.1 C1360.7 440.2 1361.0 439.2 1361.4 438.2 C1361.7 437.2 1362.1 436.3 1362.4 435.3 C1362.7 434.3 1363.1 433.4 1363.4 432.4 C1363.7 431.4 1364.1 430.5 1364.4 429.5 C1364.7 428.5 1365.0 427.6 1365.4 426.6 C1365.7 425.6 1366.0 424.7 1366.3 423.7 C1366.7 422.7 1367.0 421.8 1367.3 420.8 C1367.6 419.9 1368.0 418.9 1368.3 417.9 C1368.6 417.0 1368.9 416.0 1369.2 415.1 C1369.5 414.1 1369.9 413.1 1370.2 412.2 C1370.5 411.2 1370.8 410.3 1371.1 409.3 C1371.4 408.4 1371.7 407.4 1372.0 406.5 C1372.4 405.5 1372.7 404.5 1373.0 403.6 C1373.3 402.6 1373.6 401.7 1373.9 400.7 C1374.2 399.8 1374.5 398.8 1374.8 397.9 C1375.1 396.9 1375.4 396.0 1375.7 395.0 C1376.0 394.1 1376.3 393.1 1376.6 392.2 C1376.9 391.2 1377.2 390.3 1377.5 389.3 C1377.8 388.4 1378.0 387.4 1378.3 386.5 C1378.6 385.5 1378.9 384.6 1379.2 383.6 C1379.5 382.7 1379.8 381.7 1380.1 380.8 C1380.3 379.8 1380.6 378.9 1380.9 377.9 C1381.2 377.0 1381.5 376.0 1381.8 375.1 C1382.0 374.1 1382.3 373.2 1382.6 372.2 C1382.9 371.3 1383.1 370.3 1383.4 369.4 C1383.7 368.4 1384.0 367.5 1384.2 366.5 C1384.5 365.5 1384.8 364.6 1385.0 363.6 C1385.3 362.7 1385.6 361.7 1385.9 360.8 C1386.1 359.8 1386.4 358.9 1386.6 357.9 C1386.9 357.0 1387.2 356.0 1387.4 355.1 C1387.7 354.1 1388.0 353.2 1388.2 352.2 C1388.5 351.2 1388.7 350.3 1389.0 349.3 C1389.2 348.4 1389.5 347.4 1389.7 346.5 C1390.0 345.5 1390.2 344.5 1390.5 343.6 C1390.7 342.6 1391.0 341.7 1391.2 340.7 C1391.5 339.7 1391.7 338.8 1392.0 337.8 C1392.2 336.9 1392.5 335.9 1392.7 334.9 C1392.9 334.0 1393.2 333.0 1393.4 332.0 C1393.7 331.1 1393.9 330.1 1394.1 329.1 C1394.4 328.2 1394.6 327.2 1394.8 326.2 C1395.1 325.3 1395.3 324.3 1395.5 323.3 C1395.7 322.4 1396.0 321.4 1396.2 320.4 C1396.4 319.5 1396.6 318.5 1396.9 317.5 C1397.1 316.5 1397.3 315.6 1397.5 314.6 C1397.7 313.6 1398.0 312.7 1398.2 311.7 C1398.4 310.7 1398.6 309.7 1398.8 308.8 C1399.0 307.8 1399.2 306.8 1399.5 305.8 C1399.7 304.9 1399.9 303.9 1400.1 302.9 C1400.3 301.9 1400.5 301.0 1400.7 300.0 C1400.9 299.0 1401.1 298.0 1401.3 297.0 C1401.5 296.1 1401.7 295.1 1401.9 294.1 C1402.1 293.1 1402.2 292.1 1402.4 291.1 C1402.6 290.2 1402.8 289.2 1403.0 288.2 C1403.2 287.2 1403.4 286.2 1403.6 285.2 C1403.7 284.3 1403.9 283.3 1404.1 282.3 C1404.3 281.3 1404.4 280.3 1404.6 279.3 C1404.8 278.4 1405.0 277.4 1405.1 276.4 C1405.3 275.4 1405.5 274.4 1405.6 273.4 C1405.8 272.4 1406.0 271.4 1406.1 270.4 C1406.3 269.5 1406.4 268.5 1406.6 267.5 C1406.8 266.5 1406.9 265.5 1407.1 264.5 C1407.2 263.5 1407.4 262.5 1407.5 261.5 C1407.7 260.5 1407.8 259.5 1408.0 258.5 C1408.1 257.5 1408.2 256.6 1408.4 255.6 C1408.5 254.6 1408.7 253.6 1408.8 252.6 C1408.9 251.6 1409.1 250.6 1409.2 249.6 C1409.3 248.6 1409.4 247.6 1409.6 246.6 C1409.7 245.6 1409.8 244.6 1409.9 243.6 C1410.1 242.6 1410.2 241.6 1410.3 240.6 C1410.4 239.6 1410.5 238.6 1410.6 237.6 C1410.7 236.6 1410.9 235.6 1411.0 234.6 C1411.1 233.6 1411.2 232.6 1411.3 231.6 C1411.4 230.6 1411.5 229.6 1411.6 228.6 C1411.7 227.6 1411.8 226.6 1411.8 225.6 C1411.9 224.6 1412.0 223.6 1412.1 222.5 C1412.2 221.5 1412.3 220.5 1412.4 219.5 C1412.4 218.5 1412.5 217.5 1412.6 216.5 C1412.7 215.5 1412.7 214.5 1412.8 213.5 C1412.9 212.5 1412.9 211.5 1413.0 210.5 C1413.1 209.5 1413.1 208.4 1413.2 207.4 C1413.3 206.4 1413.3 205.4 1413.4 204.4 C1413.4 203.4 1413.5 202.4 1413.5 201.4 C1413.6 200.4 1413.6 199.3 1413.6 198.3 C1413.7 197.3 1413.7 196.3 1413.8 195.3 C1413.8 194.3 1413.8 193.3 1413.9 192.3 C1413.9 191.2 1413.9 190.2 1413.9 189.2 C1414.0 188.2 1414.0 187.2 1414.0 186.2 C1414.0 185.2 1414.0 184.1 1414.1 183.1 C1414.1 182.1 1414.1 181.1 1414.1 180.1 C1414.1 179.1 1414.1 178.1 1414.1 177.0 C1414.1 176.0 1414.1 175.0 1414.1 174.0 C1414.1 173.0 1414.1 171.9 1414.1 170.9 C1414.1 169.9 1414.0 168.9 1414.0 167.9 C1414.0 166.9 1414.0 165.8 1414.0 164.8 C1413.9 163.8 1414.0 164.1 1413.9 161.8 C1413.7 159.5 1414.0 154.1 1413.0 151.0 C1412.0 147.9 1409.9 145.7 1407.7 143.0 C1405.5 140.3 1401.3 136.3 1400.0 135.0" stroke="#000080"/>
</g>
<g stroke="#000" stroke-width="5.5" fill="none" stroke-linecap="square">
<line x1="253.5" y1="48.5" x2="253.5" y2="941.0"/>
<line x1="253.5" y1="941.0" x2="1449" y2="941.0"/>
</g>
<g stroke="#000" stroke-width="4">
<line x1="233" y1="91.0" x2="253.5" y2="91.0"/>
<line x1="233" y1="176.0" x2="253.5" y2="176.0"/>
<line x1="233" y1="261.0" x2="253.5" y2="261.0"/>
<line x1="233" y1="346.0" x2="253.5" y2="346.0"/>
<line x1="233" y1="431.0" x2="253.5" y2="431.0"/>
<line x1="233" y1="516.0" x2="253.5" y2="516.0"/>
<line x1="233" y1="601.0" x2="253.5" y2="601.0"/>
<line x1="233" y1="686.0" x2="253.5" y2="686.0"/>
<line x1="233" y1="771.0" x2="253.5" y2="771.0"/>
<line x1="233" y1="856.0" x2="253.5" y2="856.0"/>
<line x1="233" y1="941.0" x2="253.5" y2="941.0"/>
<line x1="242" y1="48.5" x2="253.5" y2="48.5"/>
<line x1="242" y1="133.5" x2="253.5" y2="133.5"/>
<line x1="242" y1="218.5" x2="253.5" y2="218.5"/>
<line x1="242" y1="303.5" x2="253.5" y2="303.5"/>
<line x1="242" y1="388.5" x2="253.5" y2="388.5"/>
<line x1="242" y1="473.5" x2="253.5" y2="473.5"/>
<line x1="242" y1="558.5" x2="253.5" y2="558.5"/>
<line x1="242" y1="643.5" x2="253.5" y2="643.5"/>
<line x1="242" y1="728.5" x2="253.5" y2="728.5"/>
<line x1="242" y1="813.5" x2="253.5" y2="813.5"/>
<line x1="242" y1="898.5" x2="253.5" y2="898.5"/>
<line x1="256.2" y1="941.0" x2="256.2" y2="953.5"/>
<line x1="281.1" y1="941.0" x2="281.1" y2="953.5"/>
<line x1="300.5" y1="941.0" x2="300.5" y2="953.5"/>
<line x1="316.3" y1="941.0" x2="316.3" y2="953.5"/>
<line x1="329.6" y1="941.0" x2="329.6" y2="953.5"/>
<line x1="341.2" y1="941.0" x2="341.2" y2="953.5"/>
<line x1="351.4" y1="941.0" x2="351.4" y2="953.5"/>
<line x1="420.6" y1="941.0" x2="420.6" y2="953.5"/>
<line x1="455.7" y1="941.0" x2="455.7" y2="953.5"/>
<line x1="480.6" y1="941.0" x2="480.6" y2="953.5"/>
<line x1="500.0" y1="941.0" x2="500.0" y2="953.5"/>
<line x1="515.8" y1="941.0" x2="515.8" y2="953.5"/>
<line x1="529.1" y1="941.0" x2="529.1" y2="953.5"/>
<line x1="540.7" y1="941.0" x2="540.7" y2="953.5"/>
<line x1="550.9" y1="941.0" x2="550.9" y2="953.5"/>
<line x1="620.1" y1="941.0" x2="620.1" y2="953.5"/>
<line x1="655.2" y1="941.0" x2="655.2" y2="953.5"/>
<line x1="680.1" y1="941.0" x2="680.1" y2="953.5"/>
<line x1="699.5" y1="941.0" x2="699.5" y2="953.5"/>
<line x1="715.3" y1="941.0" x2="715.3" y2="953.5"/>
<line x1="728.6" y1="941.0" x2="728.6" y2="953.5"/>
<line x1="740.2" y1="941.0" x2="740.2" y2="953.5"/>
<line x1="750.4" y1="941.0" x2="750.4" y2="953.5"/>
<line x1="819.6" y1="941.0" x2="819.6" y2="953.5"/>
<line x1="854.7" y1="941.0" x2="854.7" y2="953.5"/>
<line x1="879.6" y1="941.0" x2="879.6" y2="953.5"/>
<line x1="899.0" y1="941.0" x2="899.0" y2="953.5"/>
<line x1="914.8" y1="941.0" x2="914.8" y2="953.5"/>
<line x1="928.1" y1="941.0" x2="928.1" y2="953.5"/>
<line x1="939.7" y1="941.0" x2="939.7" y2="953.5"/>
<line x1="949.9" y1="941.0" x2="949.9" y2="953.5"/>
<line x1="1019.1" y1="941.0" x2="1019.1" y2="953.5"/>
<line x1="1054.2" y1="941.0" x2="1054.2" y2="953.5"/>
<line x1="1079.1" y1="941.0" x2="1079.1" y2="953.5"/>
<line x1="1098.5" y1="941.0" x2="1098.5" y2="953.5"/>
<line x1="1114.3" y1="941.0" x2="1114.3" y2="953.5"/>
<line x1="1127.6" y1="941.0" x2="1127.6" y2="953.5"/>
<line x1="1139.2" y1="941.0" x2="1139.2" y2="953.5"/>
<line x1="1149.4" y1="941.0" x2="1149.4" y2="953.5"/>
<line x1="1218.6" y1="941.0" x2="1218.6" y2="953.5"/>
<line x1="1253.7" y1="941.0" x2="1253.7" y2="953.5"/>
<line x1="1278.6" y1="941.0" x2="1278.6" y2="953.5"/>
<line x1="1298.0" y1="941.0" x2="1298.0" y2="953.5"/>
<line x1="1313.8" y1="941.0" x2="1313.8" y2="953.5"/>
<line x1="1327.1" y1="941.0" x2="1327.1" y2="953.5"/>
<line x1="1338.7" y1="941.0" x2="1338.7" y2="953.5"/>
<line x1="1348.9" y1="941.0" x2="1348.9" y2="953.5"/>
<line x1="1418.1" y1="941.0" x2="1418.1" y2="953.5"/>
<line x1="360.5" y1="941.0" x2="360.5" y2="962"/>
<line x1="560.0" y1="941.0" x2="560.0" y2="962"/>
<line x1="759.5" y1="941.0" x2="759.5" y2="962"/>
<line x1="959.0" y1="941.0" x2="959.0" y2="962"/>
<line x1="1158.5" y1="941.0" x2="1158.5" y2="962"/>
<line x1="1358.0" y1="941.0" x2="1358.0" y2="962"/>
</g>
<g font-family="Liberation Sans, sans-serif" font-weight="bold" font-size="52" fill="#000" text-anchor="end">
<text transform="translate(221.5 106.2) scale(0.95 1)">3.0</text>
<text transform="translate(221.5 191.2) scale(0.95 1)">2.5</text>
<text transform="translate(221.5 276.2) scale(0.95 1)">2.0</text>
<text transform="translate(221.5 361.2) scale(0.95 1)">1.5</text>
<text transform="translate(221.5 446.2) scale(0.95 1)">1.0</text>
<text transform="translate(221.5 531.2) scale(0.95 1)">0.5</text>
<text transform="translate(221.5 616.2) scale(0.95 1)">0.0</text>
<text transform="translate(221.5 701.2) scale(0.95 1)">-0.5</text>
<text transform="translate(221.5 786.2) scale(0.95 1)">-1.0</text>
<text transform="translate(221.5 871.2) scale(0.95 1)">-1.5</text>
<text transform="translate(221.5 956.2) scale(0.95 1)">-2.0</text>
</g>
<g font-family="Liberation Sans, sans-serif" font-weight="bold" font-size="53.5" fill="#000" text-anchor="middle">
<text transform="translate(360.5 1011.5) scale(0.96 1)">200n</text>
<text transform="translate(560.0 1011.5) scale(0.96 1)">2μ</text>
<text transform="translate(759.5 1011.5) scale(0.96 1)">20μ</text>
<text transform="translate(959.0 1011.5) scale(0.96 1)">200μ</text>
<text transform="translate(1158.5 1011.5) scale(0.96 1)">2m</text>
<text transform="translate(1358.0 1011.5) scale(0.96 1)">20m</text>
</g>
<text font-family="Liberation Sans, sans-serif" font-weight="bold" font-size="51" transform="translate(73 305.7) rotate(-90) scale(1.000 1)" x="-7.50" y="0">)</text>
<text font-family="Liberation Sans, sans-serif" font-weight="bold" font-size="51" transform="translate(73 330.2) rotate(-90) scale(0.800 1)" x="-17.50" y="0">E</text>
<text font-family="Liberation Sans, sans-serif" font-weight="bold" font-size="51" transform="translate(73 360.0) rotate(-90) scale(0.933 1)" x="-18.50" y="0">C</text>
<text font-family="Liberation Sans, sans-serif" font-weight="bold" font-size="51" transform="translate(73 389.8) rotate(-90) scale(0.917 1)" x="-17.00" y="0">S</text>
<text font-family="Liberation Sans, sans-serif" font-weight="bold" font-size="51" transform="translate(73 431.0) rotate(-90) scale(0.967 1)" x="-14.00" y="0">s</text>
<text font-family="Liberation Sans, sans-serif" font-weight="bold" font-size="51" transform="translate(73 456.5) rotate(-90) scale(0.946 1)" x="-14.00" y="0">v</text>
<text font-family="Liberation Sans, sans-serif" font-weight="bold" font-size="51" transform="translate(73 499.0) rotate(-90) scale(1.000 1)" x="-17.00" y="0">V</text>
<text font-family="Liberation Sans, sans-serif" font-weight="bold" font-size="51" transform="translate(73 528.0) rotate(-90) scale(1.000 1)" x="-9.50" y="0">(</text>
<text font-family="Liberation Sans, sans-serif" font-weight="bold" font-size="51" transform="translate(73 556.0) rotate(-90) scale(1.000 1)" x="-7.00" y="0">l</text>
<text font-family="Liberation Sans, sans-serif" font-weight="bold" font-size="51" transform="translate(73 578.0) rotate(-90) scale(0.900 1)" x="-15.00" y="0">a</text>
<text font-family="Liberation Sans, sans-serif" font-weight="bold" font-size="51" transform="translate(73 600.6) rotate(-90) scale(1.000 1)" x="-7.00" y="0">i</text>
<text font-family="Liberation Sans, sans-serif" font-weight="bold" font-size="51" transform="translate(73 616.5) rotate(-90) scale(1.000 1)" x="-8.50" y="0">t</text>
<text font-family="Liberation Sans, sans-serif" font-weight="bold" font-size="51" transform="translate(73 643.5) rotate(-90) scale(1.000 1)" x="-15.50" y="0">n</text>
<text font-family="Liberation Sans, sans-serif" font-weight="bold" font-size="51" transform="translate(73 675.7) rotate(-90) scale(1.000 1)" x="-14.50" y="0">e</text>
<text font-family="Liberation Sans, sans-serif" font-weight="bold" font-size="51" transform="translate(73 698.9) rotate(-90) scale(1.000 1)" x="-8.50" y="0">t</text>
<text font-family="Liberation Sans, sans-serif" font-weight="bold" font-size="51" transform="translate(73 724.8) rotate(-90) scale(1.000 1)" x="-15.50" y="0">o</text>
<text font-family="Liberation Sans, sans-serif" font-weight="bold" font-size="51" transform="translate(73 755.8) rotate(-90) scale(0.907 1)" x="-17.50" y="0">P</text>
<text font-family="Liberation Sans, sans-serif" font-weight="bold" font-size="50" transform="translate(712.6 1108) scale(0.900 1)" x="-16.00" y="0">L</text>
<text font-family="Liberation Sans, sans-serif" font-weight="bold" font-size="50" transform="translate(738.3 1108) scale(0.970 1)" x="-15.50" y="0">o</text>
<text font-family="Liberation Sans, sans-serif" font-weight="bold" font-size="50" transform="translate(768.9 1108) scale(1.000 1)" x="-14.50" y="0">g</text>
<text font-family="Liberation Sans, sans-serif" font-weight="bold" font-size="50" transform="translate(803.6 1108) scale(1.000 1)" x="-6.50" y="0">i</text>
<text font-family="Liberation Sans, sans-serif" font-weight="bold" font-size="50" transform="translate(833.1 1108) scale(1.000 1)" x="-9.00" y="0">(</text>
<text font-family="Liberation Sans, sans-serif" font-weight="bold" font-size="50" transform="translate(860.8 1108) scale(1.000 1)" x="-18.00" y="0">A</text>
<text font-family="Liberation Sans, sans-serif" font-weight="bold" font-size="50" transform="translate(916.7 1108) scale(0.946 1)" x="-14.00" y="0">c</text>
<text font-family="Liberation Sans, sans-serif" font-weight="bold" font-size="50" transform="translate(952.0 1108) scale(1.000 1)" x="-22.00" y="0">m</text>
<text font-family="Liberation Sans, sans-serif" font-weight="bold" font-size="50" transform="translate(1003.8 1108) scale(0.950 1)" x="-7.00" y="0">)</text>
<text font-family="Liberation Sans, sans-serif" font-weight="bold" font-size="29" text-anchor="middle" x="986.2" y="1086">2</text>
<line x1="881.5" y1="1115" x2="900.5" y2="1069" stroke="#000" stroke-width="6.5"/>
<rect x="411.5" y="51" width="249" height="389" fill="#fff" stroke="#555" stroke-width="3.5"/>
<line x1="429.5" y1="97.8" x2="530.5" y2="97.8" stroke="#000080" stroke-width="11"/>
<text font-family="Liberation Sans, sans-serif" font-weight="bold" font-size="45" transform="translate(559.2 109.0) scale(0.875 1)" x="-1" y="0">SP1</text>
<line x1="429.5" y1="158.5" x2="530.5" y2="158.5" stroke="#808000" stroke-width="11"/>
<text font-family="Liberation Sans, sans-serif" font-weight="bold" font-size="45" transform="translate(559.2 170.6) scale(0.875 1)" x="-1" y="0">SP2</text>
<line x1="429.5" y1="219.2" x2="530.5" y2="219.2" stroke="#ff00ff" stroke-width="11"/>
<text font-family="Liberation Sans, sans-serif" font-weight="bold" font-size="45" transform="translate(554.0 232.2) scale(0.915 1)" x="-1" y="0">SU3</text>
<line x1="429.5" y1="279.9" x2="530.5" y2="279.9" stroke="#008080" stroke-width="11"/>
<text font-family="Liberation Sans, sans-serif" font-weight="bold" font-size="45" transform="translate(554.0 293.8) scale(0.92 1)" x="-1" y="0">SU4</text>
<line x1="429.5" y1="340.6" x2="530.5" y2="340.6" stroke="#0000ff" stroke-width="11"/>
<text font-family="Liberation Sans, sans-serif" font-weight="bold" font-size="45" transform="translate(559.2 355.4) scale(0.87 1)" x="-1" y="0">SP5</text>
<line x1="429.5" y1="401.3" x2="530.5" y2="401.3" stroke="#ff0000" stroke-width="11"/>
<text font-family="Liberation Sans, sans-serif" font-weight="bold" font-size="45" transform="translate(554.0 417.0) scale(0.91 1)" x="-1" y="0">SU6</text>
</svg>
</body></html>
